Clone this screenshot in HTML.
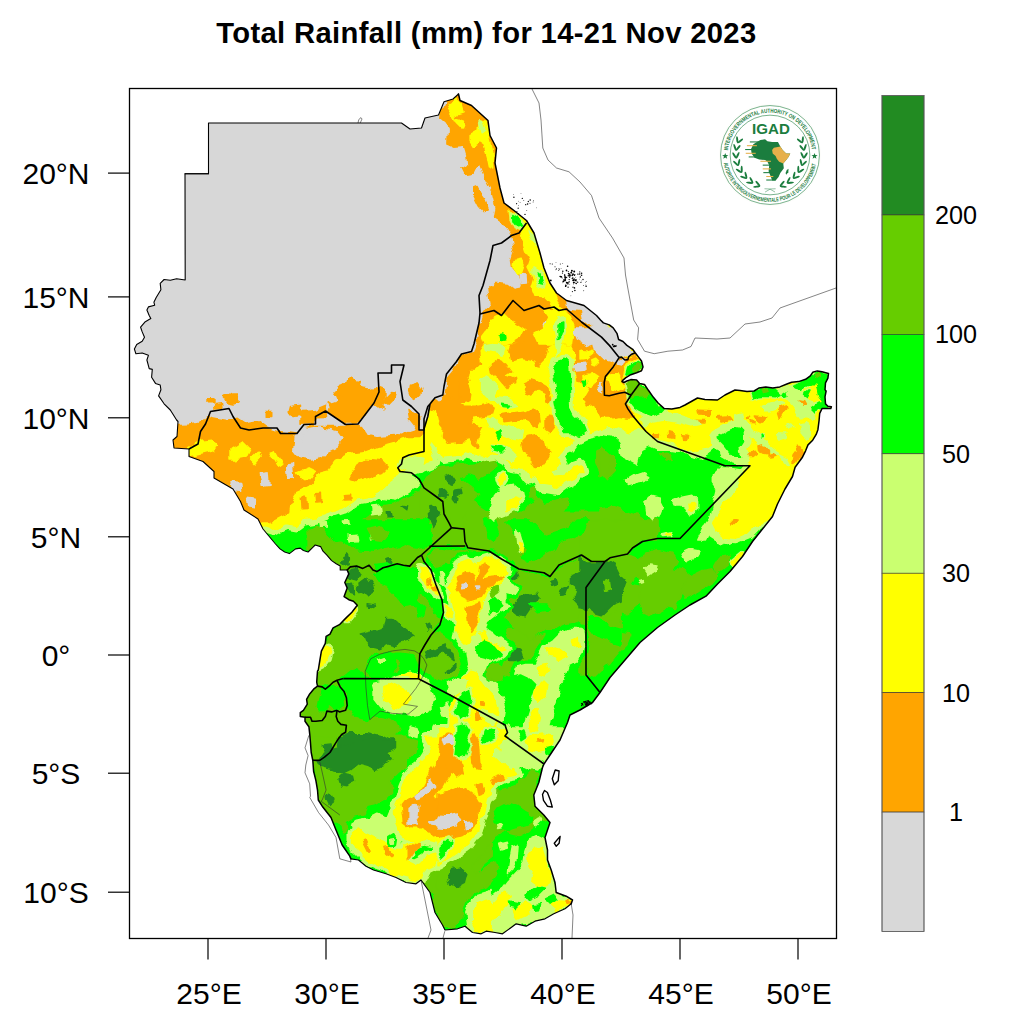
<!DOCTYPE html>
<html lang="en"><head><meta charset="utf-8"><title>Total Rainfall (mm) for 14-21 Nov 2023</title>
<style>html,body{margin:0;padding:0;background:#fff}body{width:1024px;height:1024px;overflow:hidden}svg{display:block}text{font-family:"Liberation Sans", Arial, Helvetica, sans-serif;fill:#000}</style></head><body>
<svg width="1024" height="1024" viewBox="0 0 1024 1024">
<rect width="1024" height="1024" fill="#fff"/>
<defs><clipPath id="fr"><rect x="129.5" y="88.5" width="707" height="850"/></clipPath>
<clipPath id="land"><path d="M208.5,123.0 L401.5,123.0 L410.0,129.0 L421.5,128.0 L425.0,118.0 L438.5,115.0 L444.0,101.8 L453.0,99.0 L458.5,94.0 L460.0,100.5 L471.5,105.5 L488.0,120.5 L490.0,135.5 L496.5,148.0 L495.0,163.0 L500.0,188.0 L504.0,203.0 L514.0,210.5 L526.5,220.5 L534.0,233.0 L540.0,253.0 L544.0,268.0 L550.0,283.0 L556.5,293.0 L566.5,300.5 L584.0,305.5 L596.5,315.5 L600.5,320.0 L603.4,322.9 L609.3,324.9 L613.2,327.8 L617.1,333.7 L618.6,339.5 L623.0,341.5 L626.9,345.4 L632.7,349.3 L635.2,352.7 L638.6,357.1 L641.5,361.0 L643.0,366.9 L641.5,370.8 L636.6,372.7 L630.8,374.7 L625.9,377.6 L623.0,380.1 L622.0,381.5 L623.9,382.5 L626.9,381.0 L630.8,379.6 L636.6,380.1 L639.6,383.5 L644.5,384.5 L648.4,390.3 L653.2,397.1 L658.1,403.0 L664.0,408.4 L671.8,408.9 L680.0,407.4 L685.0,405.0 L697.5,398.0 L705.0,399.5 L717.5,400.0 L725.0,395.0 L735.0,390.0 L740.0,390.4 L747.0,391.6 L754.1,391.0 L758.8,388.1 L765.8,386.9 L772.8,388.1 L779.8,386.9 L786.9,384.0 L791.6,382.2 L798.6,381.6 L805.6,379.3 L810.3,375.8 L812.7,372.3 L817.3,370.9 L822.0,371.7 L828.5,373.4 L827.9,378.1 L825.5,382.8 L825.0,389.8 L826.1,391.0 L825.0,396.9 L825.5,403.9 L827.9,406.2 L831.4,406.8 L830.8,408.6 L822.0,408.6 L819.7,413.3 L819.1,420.3 L817.9,429.7 L816.2,434.4 L812.7,440.2 L808.0,444.9 L805.6,450.8 L802.1,457.8 L798.6,462.5 L795.1,467.2 L792.5,476.5 L785.0,489.0 L777.5,504.0 L772.5,516.5 L762.5,529.0 L752.5,541.5 L742.5,556.5 L730.0,571.5 L717.5,584.0 L706.0,596.2 L690.0,605.0 L675.0,615.0 L657.5,627.5 L640.0,642.5 L625.0,660.0 L610.0,677.5 L600.0,692.5 L592.5,702.5 L580.0,710.0 L570.0,715.0 L567.5,722.5 L560.0,740.0 L550.0,755.0 L544.0,764.0 L542.5,767.5 L538.8,782.5 L533.8,795.0 L535.0,806.2 L543.8,815.0 L550.0,822.5 L545.0,837.5 L547.5,850.0 L547.5,860.0 L551.2,870.0 L555.0,882.5 L556.2,892.5 L566.2,896.2 L572.5,900.0 L571.2,903.8 L565.0,908.8 L553.8,913.8 L545.0,918.8 L535.0,921.2 L526.2,926.2 L516.2,923.8 L511.2,927.5 L502.5,933.8 L495.0,932.5 L486.2,931.2 L481.2,933.8 L472.5,932.5 L465.0,926.2 L457.5,928.8 L445.0,930.0 L442.5,925.0 L435.0,912.5 L430.0,892.5 L421.0,880.0 L416.0,883.8 L406.0,882.5 L396.0,877.5 L386.0,873.8 L373.5,870.0 L366.0,866.2 L358.5,860.0 L351.0,858.8 L349.8,856.2 L342.2,845.0 L336.0,830.0 L331.0,817.5 L322.2,806.2 L318.3,800.0 L317.5,790.0 L315.9,780.6 L313.6,771.2 L312.8,760.3 L311.2,752.5 L310.5,743.1 L309.7,733.8 L308.9,726.7 L305.0,721.2 L305.0,717.3 L300.3,716.6 L300.3,712.7 L303.4,710.3 L307.3,704.1 L306.6,699.4 L309.7,693.9 L313.6,689.2 L317.5,686.1 L316.7,682.2 L317.5,671.2 L318.3,670.0 L319.8,660.6 L321.4,651.2 L325.3,643.4 L326.1,636.4 L330.0,634.1 L333.1,627.8 L339.4,624.7 L345.6,618.4 L351.9,612.2 L357.3,605.2 L353.4,601.2 L348.8,599.7 L344.1,596.6 L347.2,588.0 L344.8,582.5 L348.8,573.9 L347.2,570.0 L340.2,570.0 L340.2,566.1 L336.2,563.8 L331.6,560.6 L326.9,555.2 L323.0,551.2 L320.6,546.6 L315.2,545.0 L312.8,547.3 L308.1,552.0 L303.4,550.5 L300.3,548.1 L295.6,548.9 L289.4,553.6 L284.7,552.0 L280.0,548.9 L275.5,544.0 L263.0,529.0 L258.0,519.0 L244.0,510.0 L240.5,501.5 L233.0,489.0 L214.0,478.0 L214.0,471.5 L203.0,461.5 L189.0,456.5 L189.0,449.0 L174.0,448.0 L173.0,440.0 L177.0,436.5 L178.0,421.5 L176.6,420.0 L170.3,410.0 L164.1,403.8 L158.6,395.9 L160.9,389.7 L160.2,385.0 L155.5,383.4 L151.6,377.2 L152.3,369.4 L149.2,368.6 L146.9,360.0 L148.4,355.3 L142.2,353.0 L135.9,353.8 L134.4,349.0 L136.7,344.4 L142.2,341.2 L144.5,337.3 L142.2,331.9 L140.6,327.2 L145.3,321.7 L150.8,318.6 L149.2,315.5 L146.9,310.0 L148.4,306.9 L154.7,305.3 L153.9,302.2 L156.2,297.5 L160.9,289.7 L160.2,283.4 L164.1,279.5 L170.3,280.3 L176.6,278.8 L185.2,280.0 L185.0,173.8 L208.5,173.8Z"/></clipPath><filter id="wob" x="0" y="0" width="1024" height="1024" filterUnits="userSpaceOnUse"><feTurbulence type="fractalNoise" baseFrequency="0.09" numOctaves="2" seed="7" result="n"/><feDisplacementMap in="SourceGraphic" in2="n" scale="8" xChannelSelector="R" yChannelSelector="G"/></filter>
</defs>
<g clip-path="url(#fr)">
<g clip-path="url(#land)"><g filter="url(#wob)">
<rect x="100" y="60" width="760" height="900" fill="#00ff00"/>
<path d="M308.1,529.4 L315.9,525.5 L327.7,529.4 L339.4,525.5 L347.2,521.6 L355.0,525.5 L366.7,517.7 L374.5,511.8 L382.3,505.9 L394.1,504.0 L405.8,498.1 L417.5,492.3 L431.2,490.3 L431.2,548.9 L409.7,565.5 L398.0,564.5 L382.3,567.5 L374.5,571.4 L370.6,565.5 L366.7,568.4 L358.9,565.5 L351.1,566.5 L347.2,570.4 L339.4,570.4 L323.8,552.8 L308.1,548.9Z" fill="#66cd00" stroke="#66cd00" stroke-width="1.4" stroke-linejoin="round"/>
<path d="M347.2,568.4 L358.9,566.5 L370.6,570.4 L378.4,574.3 L386.2,576.2 L390.2,588.0 L398.0,595.8 L405.8,603.6 L401.9,615.3 L394.1,620.0 L337.4,620.0 L337.4,576.2Z" fill="#66cd00" stroke="#66cd00" stroke-width="1.4" stroke-linejoin="round"/>
<path d="M439.5,466.7 L459.1,464.8 L478.6,462.8 L494.2,460.9 L496.2,466.7 L486.4,474.5 L478.6,478.4 L468.8,474.5 L459.1,478.4 L468.8,486.2 L478.6,494.1 L470.8,501.9 L478.6,505.8 L490.3,513.6 L488.4,530.0 L420.0,530.0 L420.0,490.2 L425.9,478.4 L431.7,470.6Z" fill="#66cd00" stroke="#66cd00" stroke-width="1.4" stroke-linejoin="round"/>
<path d="M595.8,451.1 L603.6,447.2 L607.5,455.0 L615.3,455.0 L615.3,470.6 L607.5,478.4 L599.7,470.6 L595.8,462.8Z" fill="#66cd00" stroke="#66cd00" stroke-width="1.4" stroke-linejoin="round"/>
<path d="M517.7,530.0 L525.5,515.5 L529.4,505.8 L537.2,496.0 L545.0,505.8 L556.7,499.9 L568.4,498.0 L564.5,509.7 L556.7,517.5 L560.6,530.0Z" fill="#66cd00" stroke="#66cd00" stroke-width="1.4" stroke-linejoin="round"/>
<path d="M529.4,488.2 L537.2,486.2 L537.2,498.0 L530.4,498.0Z" fill="#66cd00" stroke="#66cd00" stroke-width="1.4" stroke-linejoin="round"/>
<path d="M600.0,449.4 L607.8,453.3 L611.7,461.1 L607.8,472.8 L600.0,476.7Z" fill="#66cd00" stroke="#66cd00" stroke-width="1.4" stroke-linejoin="round"/>
<path d="M660.5,453.3 L668.4,452.3 L672.3,459.1 L666.4,461.1Z" fill="#66cd00" stroke="#66cd00" stroke-width="1.4" stroke-linejoin="round"/>
<path d="M600.0,508.0 L611.7,506.0 L627.3,511.9 L639.1,515.8 L650.8,523.6 L658.6,527.5 L656.6,540.0 L600.0,540.0Z" fill="#66cd00" stroke="#66cd00" stroke-width="1.4" stroke-linejoin="round"/>
<path d="M505.9,570.8 L513.8,568.8 L525.5,572.7 L537.2,574.7 L548.9,578.6 L560.6,566.9 L580.2,557.1 L621.2,557.1 L621.2,641.1 L613.4,637.2 L607.5,629.4 L595.8,625.5 L586.0,617.7 L576.2,621.6 L564.5,625.5 L556.7,629.4 L545.0,629.4 L537.2,635.2 L529.4,641.1 L521.6,637.2 L517.7,629.4 L511.8,625.5 L505.9,617.7 L509.8,605.9 L505.9,594.2 L507.9,582.5Z" fill="#66cd00" stroke="#66cd00" stroke-width="1.4" stroke-linejoin="round"/>
<path d="M418.0,518.0 L447.3,518.0 L449.3,527.8 L429.8,545.4 L420.0,555.2 L418.0,555.2Z" fill="#66cd00" stroke="#66cd00" stroke-width="1.4" stroke-linejoin="round"/>
<path d="M466.9,512.2 L621.2,512.2 L621.2,556.1 L613.4,556.1 L605.5,561.0 L588.0,560.0 L580.2,555.2 L558.7,564.9 L549.9,576.6 L543.0,572.7 L525.5,569.8 L515.7,567.9 L505.9,561.0 L498.1,556.1 L488.4,550.3 L468.8,548.3 L465.9,543.4 L463.9,527.8Z" fill="#66cd00" stroke="#66cd00" stroke-width="1.4" stroke-linejoin="round"/>
<path d="M420.0,637.2 L427.8,631.3 L439.5,633.3 L451.2,641.1 L459.1,652.8 L461.0,664.5 L455.2,676.2 L443.4,680.2 L431.7,676.2 L420.0,672.3 L416.1,656.7Z" fill="#66cd00" stroke="#66cd00" stroke-width="1.4" stroke-linejoin="round"/>
<path d="M505.9,629.4 L517.7,629.4 L529.4,641.1 L537.2,637.2 L545.0,633.3 L537.2,647.0 L533.3,656.7 L529.4,664.5 L517.7,666.5 L515.7,674.3 L505.9,676.2 L502.0,668.4 L505.9,656.7 L507.9,647.0Z" fill="#66cd00" stroke="#66cd00" stroke-width="1.4" stroke-linejoin="round"/>
<path d="M589.9,633.3 L599.7,629.4 L611.4,635.2 L615.3,645.0 L611.4,656.7 L603.6,668.4 L595.8,676.2 L589.9,672.3 L588.0,656.7 L591.9,645.0Z" fill="#66cd00" stroke="#66cd00" stroke-width="1.4" stroke-linejoin="round"/>
<path d="M580.0,520.0 L658.1,520.0 L658.1,531.7 L644.5,539.5 L634.7,545.4 L630.8,553.2 L611.2,557.1 L605.4,562.0 L587.8,562.0 L580.0,555.2Z" fill="#66cd00" stroke="#66cd00" stroke-width="1.4" stroke-linejoin="round"/>
<path d="M607.3,559.1 L628.8,555.2 L638.6,559.1 L644.5,555.2 L658.1,549.3 L671.8,553.2 L677.7,561.0 L673.8,568.8 L681.6,570.8 L689.4,576.6 L685.5,584.5 L681.6,592.3 L677.7,602.0 L673.8,609.8 L665.9,607.9 L658.1,611.8 L650.3,615.7 L642.5,611.8 L638.6,604.0 L634.7,598.1 L640.5,586.4 L636.6,576.6 L630.8,584.5 L626.9,594.2 L623.0,604.0 L615.2,611.8 L605.4,617.7 L599.5,625.5 L597.6,637.2 L591.7,645.0 L586.8,645.0 L586.8,607.9 L601.5,615.7 L619.1,602.0 L626.9,580.5 L609.3,570.8Z" fill="#66cd00" stroke="#66cd00" stroke-width="1.4" stroke-linejoin="round"/>
<path d="M587.8,645.0 L599.5,637.2 L609.3,629.4 L619.1,633.3 L630.8,635.2 L626.9,645.0 L619.1,652.8 L609.3,664.5 L599.5,668.4 L591.7,676.2 L587.8,672.3Z" fill="#66cd00" stroke="#66cd00" stroke-width="1.4" stroke-linejoin="round"/>
<path d="M720.6,557.1 L730.4,555.2 L726.5,564.9 L716.7,572.7 L714.8,566.9Z" fill="#66cd00" stroke="#66cd00" stroke-width="1.4" stroke-linejoin="round"/>
<path d="M580.0,605.9 L585.9,605.9 L585.9,629.4 L580.0,627.4Z" fill="#66cd00" stroke="#66cd00" stroke-width="1.4" stroke-linejoin="round"/>
<path d="M580.0,656.7 L585.9,654.8 L585.9,674.3 L580.0,676.2Z" fill="#66cd00" stroke="#66cd00" stroke-width="1.4" stroke-linejoin="round"/>
<path d="M315.4,550.0 L426.7,550.0 L424.8,561.7 L415.0,567.6 L415.0,577.3 L418.9,589.1 L426.7,600.8 L438.4,608.6 L442.3,618.4 L434.5,628.1 L426.7,637.9 L422.8,647.7 L415.0,653.5 L399.4,651.6 L387.7,653.5 L391.6,659.4 L399.4,663.3 L395.5,671.1 L387.7,675.0 L372.0,677.0 L364.2,675.0 L358.4,667.2 L348.6,671.1 L340.8,677.0 L336.9,678.9 L348.6,686.7 L356.4,682.8 L368.1,686.7 L368.1,706.2 L374.0,716.0 L383.8,718.0 L395.5,721.9 L399.4,729.7 L395.5,737.5 L387.7,745.3 L383.8,750.0 L309.5,750.0 L301.7,725.8 L299.8,706.2 L315.4,686.7 L317.3,667.2 L323.2,643.8 L340.8,620.3 L356.4,604.7 L344.7,589.1 L346.6,569.5Z" fill="#66cd00" stroke="#66cd00" stroke-width="1.4" stroke-linejoin="round"/>
<path d="M301.7,736.1 L417.0,736.1 L415.0,751.7 L407.2,759.5 L407.2,767.3 L399.4,771.2 L391.6,779.1 L391.6,790.8 L385.7,798.6 L375.9,804.5 L368.1,806.4 L364.2,814.2 L354.5,818.1 L348.6,825.9 L344.7,833.8 L338.8,825.9 L329.1,816.2 L320.3,802.5 L314.4,773.2Z" fill="#66cd00" stroke="#66cd00" stroke-width="1.4" stroke-linejoin="round"/>
<path d="M411.1,867.0 L422.8,861.1 L434.5,865.0 L446.2,857.2 L458.0,851.3 L469.7,845.5 L477.5,837.7 L491.2,829.8 L491.2,857.2 L481.4,865.0 L477.5,876.7 L473.6,888.4 L465.8,896.2 L461.9,908.0 L458.0,919.7 L454.1,927.5 L444.3,927.5 L438.4,919.7 L434.5,908.0 L432.6,894.3 L426.7,888.4 L420.9,880.6Z" fill="#66cd00" stroke="#66cd00" stroke-width="1.4" stroke-linejoin="round"/>
<path d="M488.8,796.4 L496.6,790.5 L506.4,788.6 L518.1,784.7 L525.9,776.9 L531.8,771.0 L537.7,774.9 L537.7,788.6 L533.8,798.4 L535.7,808.1 L541.6,814.0 L545.5,819.8 L537.7,821.8 L531.8,827.7 L525.9,831.6 L518.1,835.5 L510.3,833.5 L502.5,831.6 L496.6,835.5 L490.8,843.3 L484.9,851.1 L479.1,858.9 L473.2,866.7 L477.1,874.5 L484.9,866.7 L492.7,862.8 L498.6,866.7 L496.6,874.5 L490.8,882.3 L483.0,890.2 L475.2,898.0 L471.2,905.8 L467.3,913.6 L459.5,923.4 L451.7,927.3 L438.0,925.3 L438.0,866.7 L451.7,858.9 L461.5,853.0 L471.2,845.2 L479.1,833.5 L483.0,819.8 L485.9,808.1Z" fill="#66cd00" stroke="#66cd00" stroke-width="1.4" stroke-linejoin="round"/>
<path d="M433.5,545.2 L451.1,527.7 L464.8,530.0 L466.7,545.2Z" fill="#66cd00" stroke="#66cd00" stroke-width="1.4" stroke-linejoin="round"/>
<path d="M427.7,555.0 L439.4,549.1 L455.0,551.1 L466.7,549.1 L470.6,557.0 L458.9,564.8 L447.2,562.8 L435.5,566.7Z" fill="#66cd00" stroke="#66cd00" stroke-width="1.4" stroke-linejoin="round"/>
<path d="M609.3,570.8 L626.9,580.5 L638.6,576.6 L644.5,568.8 L638.6,559.1 L628.8,555.2 L619.1,559.1Z" fill="#66cd00" stroke="#66cd00" stroke-width="1.4" stroke-linejoin="round"/>
<path d="M619.1,602.0 L630.8,584.5 L640.5,586.4 L638.6,604.0 L626.9,613.8 L615.2,611.8Z" fill="#66cd00" stroke="#66cd00" stroke-width="1.4" stroke-linejoin="round"/>
<path d="M689.4,576.6 L701.1,570.8 L712.8,568.8 L716.7,574.7 L708.9,584.5 L697.2,592.3 L685.5,598.1 L681.6,592.3 L685.5,584.5Z" fill="#66cd00" stroke="#66cd00" stroke-width="1.4" stroke-linejoin="round"/>
<path d="M350.1,568.4 L357.0,567.5 L360.9,574.3 L357.0,580.2 L351.1,579.2Z" fill="#228b22" stroke="#228b22" stroke-width="1.4" stroke-linejoin="round"/>
<path d="M358.9,584.1 L366.7,578.2 L372.6,586.0 L374.5,591.9 L366.7,595.8 L360.9,591.9Z" fill="#228b22" stroke="#228b22" stroke-width="1.4" stroke-linejoin="round"/>
<path d="M341.3,554.8 L347.2,554.8 L348.2,562.6 L343.3,564.5Z" fill="#228b22" stroke="#228b22" stroke-width="1.4" stroke-linejoin="round"/>
<path d="M386.2,511.8 L392.1,511.8 L393.1,516.7 L387.2,516.7Z" fill="#228b22" stroke="#228b22" stroke-width="1.4" stroke-linejoin="round"/>
<path d="M384.3,558.7 L392.1,557.7 L394.1,562.6 L386.2,563.6Z" fill="#228b22" stroke="#228b22" stroke-width="1.4" stroke-linejoin="round"/>
<path d="M401.9,505.9 L407.7,506.9 L406.8,509.8Z" fill="#228b22" stroke="#228b22" stroke-width="1.4" stroke-linejoin="round"/>
<path d="M368.7,603.6 L374.5,604.6 L373.6,607.5Z" fill="#228b22" stroke="#228b22" stroke-width="1.4" stroke-linejoin="round"/>
<path d="M445.4,476.5 L451.2,474.5 L455.2,480.4 L451.2,484.3 L446.4,482.3Z" fill="#228b22" stroke="#228b22" stroke-width="1.4" stroke-linejoin="round"/>
<path d="M439.5,490.2 L446.4,489.2 L449.3,494.1 L445.4,498.0 L439.5,496.0Z" fill="#228b22" stroke="#228b22" stroke-width="1.4" stroke-linejoin="round"/>
<path d="M428.8,506.8 L435.6,505.8 L439.5,511.6 L436.6,521.4 L433.7,527.3 L429.8,517.5Z" fill="#228b22" stroke="#228b22" stroke-width="1.4" stroke-linejoin="round"/>
<path d="M455.2,490.2 L461.0,489.2 L462.0,493.1 L457.1,496.0 L456.1,501.9 L453.2,498.0Z" fill="#228b22" stroke="#228b22" stroke-width="1.4" stroke-linejoin="round"/>
<path d="M512.8,604.0 L517.7,598.1 L529.4,595.2 L537.2,594.2 L541.1,598.1 L535.2,604.0 L529.4,611.8 L525.5,617.7 L517.7,615.7 L512.8,611.8Z" fill="#228b22" stroke="#228b22" stroke-width="1.4" stroke-linejoin="round"/>
<path d="M570.4,576.6 L582.1,570.8 L589.9,563.0 L605.5,562.0 L588.0,587.4 L587.0,609.8 L582.1,605.9 L574.3,598.1 L576.2,588.4 L570.4,584.5Z" fill="#228b22" stroke="#228b22" stroke-width="1.4" stroke-linejoin="round"/>
<path d="M587.0,588.4 L607.5,562.0 L615.3,566.9 L621.2,578.6 L621.2,602.0 L611.4,605.9 L603.6,613.8 L595.8,611.8 L589.9,605.9 L587.0,607.9Z" fill="#228b22" stroke="#228b22" stroke-width="1.4" stroke-linejoin="round"/>
<path d="M562.6,588.4 L568.4,586.4 L565.5,594.2 L560.6,595.2Z" fill="#228b22" stroke="#228b22" stroke-width="1.4" stroke-linejoin="round"/>
<path d="M507.9,654.8 L513.8,648.9 L519.6,647.9 L522.5,656.7 L517.7,661.6 L508.9,661.6Z" fill="#228b22" stroke="#228b22" stroke-width="1.4" stroke-linejoin="round"/>
<path d="M509.8,572.7 L515.7,570.8 L517.7,576.6 L511.8,580.5Z" fill="#228b22" stroke="#228b22" stroke-width="1.4" stroke-linejoin="round"/>
<path d="M548.9,580.5 L554.8,578.6 L556.7,583.5 L550.9,585.4Z" fill="#228b22" stroke="#228b22" stroke-width="1.4" stroke-linejoin="round"/>
<path d="M437.6,647.0 L445.4,644.0 L451.2,652.8 L454.2,660.6 L449.3,656.7 L443.4,650.9 L438.6,649.9Z" fill="#228b22" stroke="#228b22" stroke-width="1.4" stroke-linejoin="round"/>
<path d="M445.4,670.4 L455.2,664.5 L456.1,667.5 L447.3,673.3Z" fill="#228b22" stroke="#228b22" stroke-width="1.4" stroke-linejoin="round"/>
<path d="M580.0,557.1 L587.8,562.0 L605.4,562.0 L585.9,588.4 L585.9,605.9 L580.0,605.9Z" fill="#228b22" stroke="#228b22" stroke-width="1.4" stroke-linejoin="round"/>
<path d="M586.8,588.4 L605.4,563.0 L609.3,570.8 L619.1,576.6 L626.9,580.5 L623.0,592.3 L619.1,602.0 L605.4,607.9 L601.5,615.7 L595.6,613.8 L591.7,607.9 L586.8,605.9Z" fill="#228b22" stroke="#228b22" stroke-width="1.4" stroke-linejoin="round"/>
<path d="M359.3,635.0 L372.0,632.0 L383.8,628.1 L385.7,617.4 L391.6,617.4 L399.4,624.2 L407.2,630.1 L415.0,635.9 L407.2,639.8 L399.4,641.8 L395.5,645.7 L387.7,643.8 L379.8,647.7 L372.0,645.7 L366.2,639.8Z" fill="#228b22" stroke="#228b22" stroke-width="1.4" stroke-linejoin="round"/>
<path d="M348.6,571.5 L356.4,568.6 L360.3,575.4 L356.4,581.2 L350.5,579.3Z" fill="#228b22" stroke="#228b22" stroke-width="1.4" stroke-linejoin="round"/>
<path d="M356.4,589.1 L364.2,581.2 L370.1,583.2 L368.1,589.1 L374.0,593.0 L368.1,596.9 L360.3,593.0Z" fill="#228b22" stroke="#228b22" stroke-width="1.4" stroke-linejoin="round"/>
<path d="M341.8,555.9 L346.6,553.9 L348.6,559.8 L343.7,563.7Z" fill="#228b22" stroke="#228b22" stroke-width="1.4" stroke-linejoin="round"/>
<path d="M383.8,558.8 L391.6,557.8 L393.5,562.7 L387.7,564.6Z" fill="#228b22" stroke="#228b22" stroke-width="1.4" stroke-linejoin="round"/>
<path d="M368.1,602.7 L374.0,603.7 L373.0,606.6 L368.5,606.2Z" fill="#228b22" stroke="#228b22" stroke-width="1.4" stroke-linejoin="round"/>
<path d="M346.6,586.1 L352.5,585.2 L354.5,594.9 L348.6,593.0Z" fill="#228b22" stroke="#228b22" stroke-width="1.4" stroke-linejoin="round"/>
<path d="M424.8,655.5 L438.4,647.7 L446.2,644.7 L452.1,651.6 L454.1,659.4 L450.2,655.5 L444.3,651.6 L434.5,655.5 L426.7,659.4Z" fill="#228b22" stroke="#228b22" stroke-width="1.4" stroke-linejoin="round"/>
<path d="M446.2,669.1 L456.0,664.3 L455.0,668.2 L448.2,673.0Z" fill="#228b22" stroke="#228b22" stroke-width="1.4" stroke-linejoin="round"/>
<path d="M426.7,626.2 L430.6,624.2 L431.6,630.1 L427.7,631.1Z" fill="#228b22" stroke="#228b22" stroke-width="1.4" stroke-linejoin="round"/>
<path d="M338.8,737.5 L348.6,733.6 L368.1,733.6 L383.8,737.5 L395.5,743.4 L391.6,750.0 L336.9,750.0Z" fill="#228b22" stroke="#228b22" stroke-width="1.4" stroke-linejoin="round"/>
<path d="M319.3,761.5 L325.2,751.7 L336.9,747.8 L348.6,743.9 L356.4,740.0 L395.5,740.0 L395.5,747.8 L387.7,751.7 L391.6,759.5 L383.8,765.4 L375.9,769.3 L368.1,765.4 L360.3,763.4 L352.5,769.3 L344.7,773.2 L336.9,769.3 L329.1,767.3 L321.2,765.4Z" fill="#228b22" stroke="#228b22" stroke-width="1.4" stroke-linejoin="round"/>
<path d="M337.9,779.1 L342.7,774.2 L352.5,776.1 L353.5,781.0 L346.6,785.9 L339.8,784.9Z" fill="#228b22" stroke="#228b22" stroke-width="1.4" stroke-linejoin="round"/>
<path d="M325.2,798.6 L332.0,795.7 L333.9,799.6 L328.1,804.5Z" fill="#228b22" stroke="#228b22" stroke-width="1.4" stroke-linejoin="round"/>
<path d="M322.2,744.9 L331.0,743.9 L332.0,749.8 L324.2,750.7Z" fill="#228b22" stroke="#228b22" stroke-width="1.4" stroke-linejoin="round"/>
<path d="M449.2,876.7 L454.1,868.9 L459.9,867.0 L466.8,874.8 L461.9,882.6 L455.0,886.5 L450.2,882.6Z" fill="#228b22" stroke="#228b22" stroke-width="1.4" stroke-linejoin="round"/>
<path d="M448.8,878.4 L453.7,868.7 L459.5,866.7 L466.4,874.5 L464.4,882.3 L457.6,886.2 L450.7,885.3Z" fill="#228b22" stroke="#228b22" stroke-width="1.4" stroke-linejoin="round"/>
<path d="M445.4,584.5 L453.2,568.8 L457.1,559.1 L466.9,555.2 L472.7,559.1 L484.5,555.2 L492.3,553.2 L502.0,559.1 L509.8,564.9 L511.8,570.8 L505.9,578.6 L511.8,584.5 L517.7,588.4 L513.8,594.2 L505.9,592.3 L505.9,602.0 L509.8,605.9 L502.0,609.8 L494.2,615.7 L486.4,621.6 L484.5,629.4 L494.2,633.3 L504.0,641.1 L511.8,647.0 L505.9,654.8 L498.1,660.6 L486.4,664.5 L482.5,676.2 L494.2,684.1 L502.0,695.8 L505.9,707.5 L502.0,732.9 L445.4,732.9 L449.3,707.5 L455.2,695.8 L459.1,684.1 L464.9,674.3 L468.8,664.5 L466.9,652.8 L459.1,645.0 L453.2,637.2 L455.2,625.5 L451.2,613.8 L449.3,598.1Z" fill="#00ff00" stroke="#00ff00" stroke-width="8" stroke-linejoin="round"/>
<path d="M535.2,664.5 L543.0,647.0 L552.8,641.1 L560.6,633.3 L568.4,629.4 L582.1,629.4 L584.1,641.1 L582.1,652.8 L576.2,660.6 L568.4,664.5 L564.5,676.2 L560.6,688.0 L556.7,699.7 L552.8,711.4 L548.9,732.9 L521.6,732.9 L529.4,707.5 L533.3,695.8 L537.2,684.1 L529.4,676.2 L521.6,672.3 L515.7,674.3 L517.7,666.5 L525.5,664.5Z" fill="#00ff00" stroke="#00ff00" stroke-width="10" stroke-linejoin="round"/>
<path d="M372.0,682.8 L383.8,679.9 L399.4,675.0 L411.1,671.1 L420.9,675.0 L426.7,678.9 L430.6,686.7 L434.5,698.4 L432.6,706.2 L424.8,712.1 L415.0,716.0 L403.3,714.1 L391.6,712.1 L379.8,708.2 L374.0,700.4 L374.0,690.6Z" fill="#00ff00" stroke="#00ff00" stroke-width="10" stroke-linejoin="round"/>
<path d="M410.1,725.8 L417.0,727.7 L416.0,737.5 L410.1,735.5Z" fill="#00ff00" stroke="#00ff00" stroke-width="6" stroke-linejoin="round"/>
<path d="M350.5,824.0 L356.4,820.1 L368.1,818.1 L375.9,814.2 L387.7,818.1 L391.6,808.4 L399.4,798.6 L395.5,822.0 L399.4,831.8 L405.2,837.7 L399.4,845.5 L387.7,845.5 L379.8,841.6 L372.0,837.7 L364.2,833.8 L358.4,827.9 L352.5,831.8Z" fill="#00ff00" stroke="#00ff00" stroke-width="8" stroke-linejoin="round"/>
<path d="M469.7,900.2 L477.5,894.3 L491.2,890.4 L491.2,933.4 L473.6,932.4 L467.7,925.5 L465.8,911.9Z" fill="#00ff00" stroke="#00ff00" stroke-width="6" stroke-linejoin="round"/>
<path d="M529.8,839.4 L537.7,835.5 L545.5,839.4 L546.4,851.1 L548.4,862.8 L553.3,874.5 L556.2,884.3 L558.2,892.1 L576.7,900.9 L557.2,913.6 L539.6,920.4 L525.9,922.4 L512.3,924.3 L511.3,933.1 L471.2,933.1 L475.2,917.5 L479.1,905.8 L486.9,898.0 L494.7,894.1 L504.5,886.2 L510.3,878.4 L518.1,870.6 L524.0,862.8 L525.9,851.1Z" fill="#00ff00" stroke="#00ff00" stroke-width="6" stroke-linejoin="round"/>
<path d="M331.6,529.4 L339.4,525.5 L347.2,521.6 L355.0,526.4 L366.7,529.4 L374.5,537.2 L366.7,545.0 L355.0,547.0 L347.2,541.1 L339.4,545.0 L333.5,539.1Z" fill="#00ff00" stroke="#00ff00" stroke-width="1.4" stroke-linejoin="round"/>
<path d="M386.2,537.2 L396.0,529.4 L405.8,525.5 L417.5,529.4 L431.2,525.5 L431.2,545.0 L417.5,547.0 L405.8,545.0 L398.0,548.9 L390.2,545.0Z" fill="#00ff00" stroke="#00ff00" stroke-width="1.4" stroke-linejoin="round"/>
<path d="M374.5,564.5 L386.2,562.6 L398.0,564.5 L405.8,568.4 L398.0,574.3 L386.2,572.3 L378.4,572.3Z" fill="#00ff00" stroke="#00ff00" stroke-width="1.4" stroke-linejoin="round"/>
<path d="M484.5,520.0 L494.2,520.0 L498.1,531.7 L494.2,543.4 L488.4,539.5 L486.4,529.8Z" fill="#00ff00" stroke="#00ff00" stroke-width="1.4" stroke-linejoin="round"/>
<path d="M505.9,520.0 L529.4,520.0 L537.2,527.8 L545.0,535.6 L556.7,531.7 L568.4,527.8 L576.2,520.0 L588.0,520.0 L584.1,529.8 L572.3,537.6 L560.6,541.5 L552.8,549.3 L545.0,553.2 L537.2,559.1 L529.4,563.0 L521.6,559.1 L525.5,549.3 L521.6,539.5 L513.8,531.7Z" fill="#00ff00" stroke="#00ff00" stroke-width="1.4" stroke-linejoin="round"/>
<path d="M529.4,604.0 L545.0,604.0 L548.9,609.8 L537.2,611.8Z" fill="#00ff00" stroke="#00ff00" stroke-width="1.4" stroke-linejoin="round"/>
<path d="M588.0,617.7 L599.7,617.7 L607.5,625.5 L621.2,629.4 L621.2,645.0 L607.5,641.1 L595.8,637.2 L589.9,629.4Z" fill="#00ff00" stroke="#00ff00" stroke-width="1.4" stroke-linejoin="round"/>
<path d="M418.9,565.6 L430.6,561.7 L434.5,573.4 L438.4,589.1 L444.3,600.8 L442.3,616.4 L436.5,614.5 L426.7,600.8 L418.9,589.1 L415.0,577.3Z" fill="#00ff00" stroke="#00ff00" stroke-width="1.4" stroke-linejoin="round"/>
<path d="M399.4,594.9 L407.2,589.1 L415.0,593.0 L418.9,600.8 L426.7,608.6 L424.8,616.4 L417.0,614.5 L415.0,606.6 L407.2,604.7Z" fill="#00ff00" stroke="#00ff00" stroke-width="1.4" stroke-linejoin="round"/>
<path d="M368.1,659.4 L375.9,653.5 L387.7,651.6 L395.5,655.5 L395.5,667.2 L387.7,675.0 L372.0,677.0 L366.2,671.1Z" fill="#00ff00" stroke="#00ff00" stroke-width="1.4" stroke-linejoin="round"/>
<path d="M321.2,688.7 L333.0,684.8 L342.7,690.6 L344.7,704.3 L336.9,710.2 L329.1,706.2 L323.2,712.1 L317.3,706.2 L319.3,696.5Z" fill="#00ff00" stroke="#00ff00" stroke-width="1.4" stroke-linejoin="round"/>
<path d="M338.8,680.9 L368.1,679.9 L370.1,690.6 L368.1,706.2 L374.0,714.1 L368.1,721.9 L356.4,718.0 L348.6,706.2 L346.6,694.5Z" fill="#00ff00" stroke="#00ff00" stroke-width="1.4" stroke-linejoin="round"/>
<path d="M498.6,808.1 L506.4,804.2 L518.1,806.2 L525.9,812.0 L533.8,815.9 L531.8,821.8 L522.0,825.7 L514.2,827.7 L506.4,831.6 L498.6,827.7 L492.7,821.8 L494.7,814.0Z" fill="#00ff00" stroke="#00ff00" stroke-width="1.4" stroke-linejoin="round"/>
<path d="M373.8,573.1 L389.4,570.0 L405.0,568.4 L417.5,566.9 L420.6,582.5 L417.5,604.4 L405.0,607.5 L395.6,595.0 L386.2,585.6 L376.9,580.9Z" fill="#00ff00" stroke="#00ff00" stroke-width="1.4" stroke-linejoin="round"/>
<path d="M319.1,520.0 L430.0,520.0 L426.9,529.4 L417.5,538.8 L405.0,541.9 L389.4,546.6 L373.8,551.2 L358.1,549.7 L350.3,543.4 L334.7,540.3 L326.9,532.5Z" fill="#00ff00" stroke="#00ff00" stroke-width="1.4" stroke-linejoin="round"/>
<path d="M150.0,420.0 L424.0,428.0 L433.1,462.0 L425.3,464.9 L413.6,468.8 L405.8,469.8 L399.9,470.8 L394.1,478.6 L386.2,484.5 L378.4,492.3 L366.7,498.1 L355.0,500.1 L343.3,507.9 L331.6,511.8 L315.9,517.7 L304.2,519.6 L296.4,525.5 L284.7,523.5 L274.9,529.4 L263.2,525.5 L249.5,529.4 L210.5,478.6Z" fill="#caff70" stroke="#caff70" stroke-width="12" stroke-linejoin="round"/>
<path d="M420.0,455.0 L423.9,447.2 L431.7,441.3 L439.5,451.1 L443.4,457.0 L459.1,455.0 L464.9,451.1 L478.6,455.0 L486.4,457.0 L498.1,455.0 L505.9,458.9 L511.8,466.7 L521.6,468.7 L529.4,478.4 L537.2,474.5 L541.1,482.3 L545.0,486.2 L556.7,488.2 L564.5,482.3 L574.3,478.4 L582.1,470.6 L580.2,464.8 L574.3,466.7 L564.5,474.5 L554.8,476.5 L552.8,470.6 L560.6,464.8 L556.7,457.0 L560.6,451.1 L568.4,447.2 L574.3,439.4 L586.0,433.5 L595.8,431.6 L607.5,425.7 L620.0,423.8 L620.0,318.3 L468.8,318.3 L420.0,388.6Z" fill="#caff70" stroke="#caff70" stroke-width="12" stroke-linejoin="round"/>
<path d="M499.1,478.4 L504.0,474.5 L505.0,478.4 L501.1,484.3Z" fill="#caff70" stroke="#caff70" stroke-width="6" stroke-linejoin="round"/>
<path d="M600.0,427.9 L609.8,425.9 L619.5,428.9 L629.3,431.8 L639.1,425.9 L646.9,431.8 L656.6,439.6 L664.5,441.6 L678.1,445.5 L687.9,449.4 L697.7,451.3 L705.5,449.4 L713.3,443.5 L721.1,441.6 L728.9,445.5 L725.0,453.3 L732.8,457.2 L740.6,453.3 L744.5,459.1 L750.4,465.0 L744.5,472.8 L740.6,480.6 L736.7,488.4 L732.8,496.2 L725.0,502.1 L721.1,509.9 L717.2,515.8 L713.3,523.6 L717.2,531.4 L725.0,537.3 L736.7,538.2 L748.4,533.4 L756.2,525.5 L775.8,515.8 L834.4,496.2 L834.4,340.0 L600.0,340.0Z" fill="#caff70" stroke="#caff70" stroke-width="10" stroke-linejoin="round"/>
<path d="M420.0,566.9 L425.9,568.8 L431.7,578.6 L437.6,588.4 L439.5,596.2 L431.7,590.3 L425.9,582.5 L420.0,576.6Z" fill="#caff70" stroke="#caff70" stroke-width="8" stroke-linejoin="round"/>
<path d="M445.4,605.9 L451.2,609.8 L452.2,617.7 L447.3,615.7Z" fill="#caff70" stroke="#caff70" stroke-width="6" stroke-linejoin="round"/>
<path d="M730.4,563.0 L742.1,553.2 L744.1,556.1 L734.3,566.9Z" fill="#caff70" stroke="#caff70" stroke-width="4" stroke-linejoin="round"/>
<path d="M321.2,653.5 L327.1,645.7 L331.0,649.6 L329.1,657.4 L323.2,665.2 L319.3,667.2Z" fill="#caff70" stroke="#caff70" stroke-width="6" stroke-linejoin="round"/>
<path d="M342.7,620.3 L354.5,608.6 L357.4,608.6 L348.6,620.3Z" fill="#caff70" stroke="#caff70" stroke-width="4" stroke-linejoin="round"/>
<path d="M426.7,740.0 L430.6,747.8 L426.7,755.6 L422.8,761.5 L415.0,767.3 L407.2,777.1 L403.3,786.9 L399.4,798.6 L395.5,808.4 L395.5,822.0 L399.4,831.8 L405.2,837.7 L415.0,841.6 L426.7,839.6 L434.5,841.6 L446.2,843.5 L456.0,841.6 L461.9,835.7 L469.7,831.8 L477.5,825.9 L483.4,814.2 L485.3,798.6 L491.2,794.7 L491.2,736.1 L426.7,736.1Z" fill="#caff70" stroke="#caff70" stroke-width="10" stroke-linejoin="round"/>
<path d="M352.5,831.8 L358.4,827.9 L364.2,833.8 L372.0,837.7 L379.8,841.6 L387.7,845.5 L395.5,849.4 L403.3,849.4 L407.2,845.5 L415.0,841.6 L411.1,853.3 L407.2,861.1 L415.0,865.0 L422.8,861.1 L426.7,855.2 L434.5,853.3 L438.4,857.2 L434.5,865.0 L426.7,868.9 L422.8,876.7 L415.0,880.6 L407.2,876.7 L399.4,874.8 L391.6,872.8 L383.8,867.0 L375.9,865.0 L368.1,861.1 L362.3,855.2 L356.4,849.4 L352.5,841.6Z" fill="#caff70" stroke="#caff70" stroke-width="10" stroke-linejoin="round"/>
<path d="M438.0,728.0 L506.4,728.0 L504.5,737.8 L498.6,745.6 L500.5,753.4 L506.4,761.2 L514.2,769.1 L518.1,774.9 L506.4,776.9 L498.6,780.8 L490.8,788.6 L486.9,796.4 L484.9,808.1 L482.0,815.9 L479.1,827.7 L475.2,835.5 L469.3,843.3 L459.5,851.1 L451.7,857.0 L438.0,864.8Z" fill="#caff70" stroke="#caff70" stroke-width="10" stroke-linejoin="round"/>
<path d="M386.2,484.5 L394.1,478.6 L399.9,470.8 L405.8,472.7 L417.5,478.6 L419.5,482.5 L415.5,487.4 L405.8,494.2 L394.1,500.1 L382.3,498.1 L378.4,494.2Z" fill="#caff70" stroke="#caff70" stroke-width="1.4" stroke-linejoin="round"/>
<path d="M370.6,506.9 L381.4,505.9 L382.3,512.8 L371.6,513.8Z" fill="#caff70" stroke="#caff70" stroke-width="1.4" stroke-linejoin="round"/>
<path d="M341.3,520.0 L348.8,519.6 L349.1,525.1 L342.1,525.5Z" fill="#caff70" stroke="#caff70" stroke-width="1.4" stroke-linejoin="round"/>
<path d="M319.8,522.0 L327.3,521.6 L327.7,526.1 L320.6,526.4Z" fill="#caff70" stroke="#caff70" stroke-width="1.4" stroke-linejoin="round"/>
<path d="M349.1,535.6 L357.9,535.2 L358.9,540.7 L350.1,541.1Z" fill="#caff70" stroke="#caff70" stroke-width="1.4" stroke-linejoin="round"/>
<path d="M371.0,531.7 L375.1,531.3 L375.5,538.8 L371.4,539.1Z" fill="#caff70" stroke="#caff70" stroke-width="1.4" stroke-linejoin="round"/>
<path d="M494.2,496.0 L502.0,486.2 L511.8,484.3 L521.6,492.1 L523.5,501.9 L515.7,509.7 L507.9,513.6 L498.1,517.5 L492.3,521.4 L488.4,517.5 L492.3,505.8Z" fill="#caff70" stroke="#caff70" stroke-width="1.4" stroke-linejoin="round"/>
<path d="M600.0,427.9 L619.5,428.9 L629.3,431.8 L639.1,425.9 L646.9,431.8 L656.6,439.6 L664.5,441.6 L678.1,445.5 L687.9,449.4 L697.7,451.3 L705.5,449.4 L709.4,453.3 L701.6,457.2 L693.8,455.2 L682.0,451.3 L670.3,449.4 L658.6,449.4 L650.8,445.5 L643.0,449.4 L639.1,457.2 L631.2,461.1 L629.3,453.3 L623.4,449.4 L619.5,441.6 L611.7,435.7 L600.0,433.8Z" fill="#caff70" stroke="#caff70" stroke-width="1.4" stroke-linejoin="round"/>
<path d="M713.3,474.8 L721.1,467.0 L728.9,467.0 L740.6,468.9 L744.5,472.8 L740.6,480.6 L736.7,488.4 L732.8,496.2 L725.0,502.1 L721.1,509.9 L717.2,515.8 L713.3,523.6 L709.4,531.4 L705.5,540.0 L697.7,540.0 L703.5,527.5 L711.3,515.8 L713.3,506.0 L715.2,496.2 L717.2,488.4 L713.3,482.6Z" fill="#caff70" stroke="#caff70" stroke-width="1.4" stroke-linejoin="round"/>
<path d="M625.4,480.6 L635.2,474.8 L641.0,472.8 L648.8,476.7 L644.9,480.6 L635.2,482.6 L627.3,484.5Z" fill="#caff70" stroke="#caff70" stroke-width="1.4" stroke-linejoin="round"/>
<path d="M644.9,502.1 L650.8,496.2 L658.6,498.2 L662.5,506.0 L658.6,515.8 L652.7,519.7 L646.9,513.8Z" fill="#caff70" stroke="#caff70" stroke-width="1.4" stroke-linejoin="round"/>
<path d="M672.3,500.2 L682.0,496.2 L691.8,494.3 L697.7,500.2 L697.7,509.9 L691.8,515.8 L685.9,511.9 L682.0,504.1 L674.2,504.1Z" fill="#caff70" stroke="#caff70" stroke-width="1.4" stroke-linejoin="round"/>
<path d="M619.5,449.4 L629.3,449.4 L639.1,457.2 L637.1,465.0 L629.3,461.1 L621.5,457.2Z" fill="#caff70" stroke="#caff70" stroke-width="1.4" stroke-linejoin="round"/>
<path d="M715.2,472.8 L725.0,468.9 L728.9,476.7 L725.0,488.4 L717.2,488.4Z" fill="#caff70" stroke="#caff70" stroke-width="1.4" stroke-linejoin="round"/>
<path d="M515.7,529.8 L519.6,531.7 L523.5,545.4 L519.6,553.2 L516.7,543.4Z" fill="#caff70" stroke="#caff70" stroke-width="1.4" stroke-linejoin="round"/>
<path d="M445.4,584.5 L453.2,568.8 L457.1,559.1 L466.9,555.2 L472.7,559.1 L484.5,555.2 L492.3,553.2 L502.0,559.1 L509.8,564.9 L511.8,570.8 L505.9,578.6 L511.8,584.5 L517.7,588.4 L513.8,594.2 L505.9,592.3 L505.9,602.0 L509.8,605.9 L502.0,609.8 L494.2,615.7 L486.4,621.6 L484.5,629.4 L494.2,633.3 L504.0,641.1 L511.8,647.0 L505.9,654.8 L498.1,660.6 L486.4,664.5 L482.5,676.2 L494.2,684.1 L502.0,695.8 L505.9,707.5 L502.0,732.9 L445.4,732.9 L449.3,707.5 L455.2,695.8 L459.1,684.1 L464.9,674.3 L468.8,664.5 L466.9,652.8 L459.1,645.0 L453.2,637.2 L455.2,625.5 L451.2,613.8 L449.3,598.1Z" fill="#caff70" stroke="#caff70" stroke-width="1.4" stroke-linejoin="round"/>
<path d="M439.5,572.7 L443.4,574.7 L444.4,584.5 L440.5,582.5Z" fill="#caff70" stroke="#caff70" stroke-width="1.4" stroke-linejoin="round"/>
<path d="M535.2,664.5 L543.0,647.0 L552.8,641.1 L560.6,633.3 L568.4,629.4 L582.1,629.4 L584.1,641.1 L582.1,652.8 L576.2,660.6 L568.4,664.5 L564.5,676.2 L560.6,688.0 L556.7,699.7 L552.8,711.4 L548.9,732.9 L521.6,732.9 L529.4,707.5 L533.3,695.8 L537.2,684.1 L529.4,676.2 L521.6,672.3 L515.7,674.3 L517.7,666.5 L525.5,664.5Z" fill="#caff70" stroke="#caff70" stroke-width="1.4" stroke-linejoin="round"/>
<path d="M420.0,695.8 L429.8,697.7 L433.7,705.5 L427.8,711.4 L420.0,711.4Z" fill="#caff70" stroke="#caff70" stroke-width="1.4" stroke-linejoin="round"/>
<path d="M708.9,525.9 L716.7,520.0 L763.6,520.0 L755.8,531.7 L744.1,539.5 L732.3,541.5 L720.6,545.4 L714.8,539.5 L708.9,535.6Z" fill="#caff70" stroke="#caff70" stroke-width="1.4" stroke-linejoin="round"/>
<path d="M681.6,553.2 L689.4,549.3 L701.1,551.2 L697.2,557.1 L689.4,559.1 L685.5,561.0Z" fill="#caff70" stroke="#caff70" stroke-width="1.4" stroke-linejoin="round"/>
<path d="M644.5,568.8 L648.4,564.9 L658.1,565.9 L654.2,570.8 L648.4,574.7Z" fill="#caff70" stroke="#caff70" stroke-width="1.4" stroke-linejoin="round"/>
<path d="M662.0,533.7 L669.8,531.7 L671.8,536.6 L664.0,537.6Z" fill="#caff70" stroke="#caff70" stroke-width="1.4" stroke-linejoin="round"/>
<path d="M638.6,582.5 L644.5,581.5 L642.5,585.4Z" fill="#caff70" stroke="#caff70" stroke-width="1.4" stroke-linejoin="round"/>
<path d="M580.0,629.4 L583.9,631.3 L584.9,645.0 L580.0,647.0Z" fill="#caff70" stroke="#caff70" stroke-width="1.4" stroke-linejoin="round"/>
<path d="M375.9,659.4 L383.8,656.4 L385.7,661.3 L379.8,665.2Z" fill="#caff70" stroke="#caff70" stroke-width="1.4" stroke-linejoin="round"/>
<path d="M372.0,682.8 L383.8,679.9 L399.4,675.0 L411.1,671.1 L420.9,675.0 L426.7,678.9 L430.6,686.7 L434.5,698.4 L432.6,706.2 L424.8,712.1 L415.0,716.0 L403.3,714.1 L391.6,712.1 L379.8,708.2 L374.0,700.4 L374.0,690.6Z" fill="#caff70" stroke="#caff70" stroke-width="1.4" stroke-linejoin="round"/>
<path d="M410.1,725.8 L417.0,727.7 L416.0,737.5 L410.1,735.5Z" fill="#caff70" stroke="#caff70" stroke-width="1.4" stroke-linejoin="round"/>
<path d="M350.5,824.0 L356.4,820.1 L368.1,818.1 L375.9,814.2 L387.7,818.1 L391.6,808.4 L399.4,798.6 L395.5,822.0 L399.4,831.8 L405.2,837.7 L399.4,845.5 L387.7,845.5 L379.8,841.6 L372.0,837.7 L364.2,833.8 L358.4,827.9 L352.5,831.8Z" fill="#caff70" stroke="#caff70" stroke-width="1.4" stroke-linejoin="round"/>
<path d="M469.7,900.2 L477.5,894.3 L491.2,890.4 L491.2,933.4 L473.6,932.4 L467.7,925.5 L465.8,911.9Z" fill="#caff70" stroke="#caff70" stroke-width="1.4" stroke-linejoin="round"/>
<path d="M529.8,839.4 L537.7,835.5 L545.5,839.4 L546.4,851.1 L548.4,862.8 L553.3,874.5 L556.2,884.3 L558.2,892.1 L576.7,900.9 L557.2,913.6 L539.6,920.4 L525.9,922.4 L512.3,924.3 L511.3,933.1 L471.2,933.1 L475.2,917.5 L479.1,905.8 L486.9,898.0 L494.7,894.1 L504.5,886.2 L510.3,878.4 L518.1,870.6 L524.0,862.8 L525.9,851.1Z" fill="#caff70" stroke="#caff70" stroke-width="1.4" stroke-linejoin="round"/>
<path d="M498.6,843.3 L506.4,841.3 L507.4,849.1 L500.5,851.1Z" fill="#caff70" stroke="#caff70" stroke-width="1.4" stroke-linejoin="round"/>
<path d="M512.3,847.2 L518.1,845.2 L517.1,858.9 L512.3,870.6 L508.4,874.5 L509.3,862.8Z" fill="#caff70" stroke="#caff70" stroke-width="1.4" stroke-linejoin="round"/>
<path d="M533.8,821.8 L539.6,817.9 L541.6,820.8 L535.7,826.7Z" fill="#caff70" stroke="#caff70" stroke-width="1.4" stroke-linejoin="round"/>
<path d="M496.6,825.7 L502.5,823.8 L501.5,827.7 L497.6,828.6Z" fill="#caff70" stroke="#caff70" stroke-width="1.4" stroke-linejoin="round"/>
<path d="M507.4,736.8 L510.3,728.0 L568.9,728.0 L551.3,755.4 L544.5,764.2 L537.7,759.3 L529.8,755.4 L522.0,749.5 L514.2,743.7Z" fill="#caff70" stroke="#caff70" stroke-width="1.4" stroke-linejoin="round"/>
<path d="M506.4,739.8 L514.2,744.6 L522.0,750.5 L529.8,756.4 L537.7,760.3 L541.6,765.2 L537.7,771.0 L529.8,769.1 L522.0,765.2 L518.1,771.0 L510.3,769.1 L506.4,761.2 L500.5,753.4 L498.6,745.6Z" fill="#caff70" stroke="#caff70" stroke-width="1.4" stroke-linejoin="round"/>
<path d="M150.0,420.0 L424.0,428.0 L433.1,462.0 L425.3,464.9 L413.6,468.8 L405.8,469.8 L399.9,470.8 L394.1,478.6 L386.2,484.5 L378.4,492.3 L366.7,498.1 L355.0,500.1 L343.3,507.9 L331.6,511.8 L315.9,517.7 L304.2,519.6 L296.4,525.5 L284.7,523.5 L274.9,529.4 L263.2,525.5 L249.5,529.4 L210.5,478.6Z" fill="#ffff00" stroke="#ffff00" stroke-width="1.4" stroke-linejoin="round"/>
<path d="M420.0,455.0 L423.9,447.2 L431.7,441.3 L439.5,451.1 L443.4,457.0 L459.1,455.0 L464.9,451.1 L478.6,455.0 L486.4,457.0 L498.1,455.0 L505.9,458.9 L511.8,466.7 L521.6,468.7 L529.4,478.4 L537.2,474.5 L541.1,482.3 L545.0,486.2 L556.7,488.2 L564.5,482.3 L574.3,478.4 L582.1,470.6 L580.2,464.8 L574.3,466.7 L564.5,474.5 L554.8,476.5 L552.8,470.6 L560.6,464.8 L556.7,457.0 L560.6,451.1 L568.4,447.2 L574.3,439.4 L586.0,433.5 L595.8,431.6 L607.5,425.7 L620.0,423.8 L620.0,318.3 L468.8,318.3 L420.0,388.6Z" fill="#ffff00" stroke="#ffff00" stroke-width="1.4" stroke-linejoin="round"/>
<path d="M507.9,501.9 L513.8,496.0 L519.6,498.0 L520.6,503.8 L513.8,507.7 L507.9,509.7Z" fill="#ffff00" stroke="#ffff00" stroke-width="1.4" stroke-linejoin="round"/>
<path d="M499.1,478.4 L504.0,474.5 L505.0,478.4 L501.1,484.3Z" fill="#ffff00" stroke="#ffff00" stroke-width="1.4" stroke-linejoin="round"/>
<path d="M600.0,427.9 L609.8,425.9 L619.5,428.9 L629.3,431.8 L639.1,425.9 L646.9,431.8 L656.6,439.6 L664.5,441.6 L678.1,445.5 L687.9,449.4 L697.7,451.3 L705.5,449.4 L713.3,443.5 L721.1,441.6 L728.9,445.5 L725.0,453.3 L732.8,457.2 L740.6,453.3 L744.5,459.1 L750.4,465.0 L744.5,472.8 L740.6,480.6 L736.7,488.4 L732.8,496.2 L725.0,502.1 L721.1,509.9 L717.2,515.8 L713.3,523.6 L717.2,531.4 L725.0,537.3 L736.7,538.2 L748.4,533.4 L756.2,525.5 L775.8,515.8 L834.4,496.2 L834.4,340.0 L600.0,340.0Z" fill="#ffff00" stroke="#ffff00" stroke-width="1.4" stroke-linejoin="round"/>
<path d="M687.9,504.1 L695.7,503.1 L696.1,509.9 L688.9,510.3Z" fill="#ffff00" stroke="#ffff00" stroke-width="1.4" stroke-linejoin="round"/>
<path d="M518.6,542.5 L522.5,543.4 L522.0,552.2 L519.2,551.2Z" fill="#ffff00" stroke="#ffff00" stroke-width="1.4" stroke-linejoin="round"/>
<path d="M447.3,586.4 L455.2,574.7 L459.1,563.0 L468.8,559.1 L474.7,566.9 L484.5,559.1 L492.3,555.2 L498.1,563.0 L505.9,564.9 L507.9,572.7 L502.0,578.6 L498.1,586.4 L490.3,586.4 L486.4,594.2 L482.5,602.0 L480.5,611.8 L478.6,621.6 L476.6,631.3 L470.8,637.2 L466.9,645.0 L459.1,637.2 L455.2,629.4 L457.1,617.7 L453.2,605.9 L451.2,594.2Z" fill="#ffff00" stroke="#ffff00" stroke-width="1.4" stroke-linejoin="round"/>
<path d="M478.6,633.3 L484.5,631.3 L488.4,641.1 L498.1,645.0 L505.9,648.9 L498.1,650.9 L490.3,648.9 L482.5,645.0Z" fill="#ffff00" stroke="#ffff00" stroke-width="1.4" stroke-linejoin="round"/>
<path d="M455.2,691.9 L461.0,680.2 L468.8,672.3 L476.6,674.3 L482.5,682.1 L488.4,689.9 L494.2,695.8 L498.1,707.5 L496.2,732.9 L449.3,732.9 L451.2,705.5Z" fill="#ffff00" stroke="#ffff00" stroke-width="1.4" stroke-linejoin="round"/>
<path d="M420.0,566.9 L425.9,568.8 L431.7,578.6 L437.6,588.4 L439.5,596.2 L431.7,590.3 L425.9,582.5 L420.0,576.6Z" fill="#ffff00" stroke="#ffff00" stroke-width="1.4" stroke-linejoin="round"/>
<path d="M445.4,605.9 L451.2,609.8 L452.2,617.7 L447.3,615.7Z" fill="#ffff00" stroke="#ffff00" stroke-width="1.4" stroke-linejoin="round"/>
<path d="M537.2,666.5 L545.0,664.5 L548.9,670.4 L545.0,676.2 L539.1,674.3Z" fill="#ffff00" stroke="#ffff00" stroke-width="1.4" stroke-linejoin="round"/>
<path d="M547.0,648.9 L556.7,647.0 L564.5,652.8 L568.4,656.7 L560.6,660.6 L554.8,656.7 L548.9,654.8Z" fill="#ffff00" stroke="#ffff00" stroke-width="1.4" stroke-linejoin="round"/>
<path d="M535.2,689.9 L543.0,682.1 L547.0,686.0 L545.0,695.8 L539.1,701.6 L535.2,697.7Z" fill="#ffff00" stroke="#ffff00" stroke-width="1.4" stroke-linejoin="round"/>
<path d="M529.4,711.4 L537.2,709.5 L539.1,717.3 L537.2,730.9 L531.3,730.9Z" fill="#ffff00" stroke="#ffff00" stroke-width="1.4" stroke-linejoin="round"/>
<path d="M572.3,641.1 L578.2,637.2 L579.2,645.0 L574.3,647.0Z" fill="#ffff00" stroke="#ffff00" stroke-width="1.4" stroke-linejoin="round"/>
<path d="M718.7,523.9 L724.5,520.0 L755.8,520.0 L751.9,527.8 L740.2,535.6 L728.4,537.6 L722.6,531.7Z" fill="#ffff00" stroke="#ffff00" stroke-width="1.4" stroke-linejoin="round"/>
<path d="M730.4,563.0 L742.1,553.2 L744.1,556.1 L734.3,566.9Z" fill="#ffff00" stroke="#ffff00" stroke-width="1.4" stroke-linejoin="round"/>
<path d="M665.9,533.3 L669.8,532.7 L670.2,535.6 L666.9,536.0Z" fill="#ffff00" stroke="#ffff00" stroke-width="1.4" stroke-linejoin="round"/>
<path d="M383.8,684.8 L391.6,682.8 L399.4,686.7 L407.2,690.6 L411.1,698.4 L407.2,704.3 L399.4,708.2 L391.6,706.2 L385.7,700.4 L383.8,692.6Z" fill="#ffff00" stroke="#ffff00" stroke-width="1.4" stroke-linejoin="round"/>
<path d="M399.4,675.0 L411.1,671.5 L419.9,675.0 L420.9,678.9 L411.1,677.0Z" fill="#ffff00" stroke="#ffff00" stroke-width="1.4" stroke-linejoin="round"/>
<path d="M321.2,653.5 L327.1,645.7 L331.0,649.6 L329.1,657.4 L323.2,665.2 L319.3,667.2Z" fill="#ffff00" stroke="#ffff00" stroke-width="1.4" stroke-linejoin="round"/>
<path d="M342.7,620.3 L354.5,608.6 L357.4,608.6 L348.6,620.3Z" fill="#ffff00" stroke="#ffff00" stroke-width="1.4" stroke-linejoin="round"/>
<path d="M426.7,740.0 L430.6,747.8 L426.7,755.6 L422.8,761.5 L415.0,767.3 L407.2,777.1 L403.3,786.9 L399.4,798.6 L395.5,808.4 L395.5,822.0 L399.4,831.8 L405.2,837.7 L415.0,841.6 L426.7,839.6 L434.5,841.6 L446.2,843.5 L456.0,841.6 L461.9,835.7 L469.7,831.8 L477.5,825.9 L483.4,814.2 L485.3,798.6 L491.2,794.7 L491.2,736.1 L426.7,736.1Z" fill="#ffff00" stroke="#ffff00" stroke-width="1.4" stroke-linejoin="round"/>
<path d="M352.5,831.8 L358.4,827.9 L364.2,833.8 L372.0,837.7 L379.8,841.6 L387.7,845.5 L395.5,849.4 L403.3,849.4 L407.2,845.5 L415.0,841.6 L411.1,853.3 L407.2,861.1 L415.0,865.0 L422.8,861.1 L426.7,855.2 L434.5,853.3 L438.4,857.2 L434.5,865.0 L426.7,868.9 L422.8,876.7 L415.0,880.6 L407.2,876.7 L399.4,874.8 L391.6,872.8 L383.8,867.0 L375.9,865.0 L368.1,861.1 L362.3,855.2 L356.4,849.4 L352.5,841.6Z" fill="#ffff00" stroke="#ffff00" stroke-width="1.4" stroke-linejoin="round"/>
<path d="M475.5,904.1 L485.3,900.2 L491.2,902.1 L491.2,931.4 L477.5,930.4 L472.6,919.7 L473.6,909.9Z" fill="#ffff00" stroke="#ffff00" stroke-width="1.4" stroke-linejoin="round"/>
<path d="M438.0,728.0 L506.4,728.0 L504.5,737.8 L498.6,745.6 L500.5,753.4 L506.4,761.2 L514.2,769.1 L518.1,774.9 L506.4,776.9 L498.6,780.8 L490.8,788.6 L486.9,796.4 L484.9,808.1 L482.0,815.9 L479.1,827.7 L475.2,835.5 L469.3,843.3 L459.5,851.1 L451.7,857.0 L438.0,864.8Z" fill="#ffff00" stroke="#ffff00" stroke-width="1.4" stroke-linejoin="round"/>
<path d="M527.9,855.0 L533.8,847.2 L541.6,847.2 L545.5,858.9 L549.4,870.6 L551.3,882.3 L545.5,886.2 L537.7,884.3 L531.8,880.4 L533.8,870.6 L527.9,866.7Z" fill="#ffff00" stroke="#ffff00" stroke-width="1.4" stroke-linejoin="round"/>
<path d="M494.7,901.9 L504.5,892.1 L510.3,896.0 L506.4,905.8 L498.6,913.6 L490.8,921.4 L483.0,931.2 L475.2,931.2 L479.1,917.5 L486.9,909.7Z" fill="#ffff00" stroke="#ffff00" stroke-width="1.4" stroke-linejoin="round"/>
<path d="M514.2,909.7 L525.9,901.9 L533.8,905.8 L525.9,915.5 L518.1,919.5Z" fill="#ffff00" stroke="#ffff00" stroke-width="1.4" stroke-linejoin="round"/>
<path d="M549.4,905.8 L561.1,899.9 L572.8,901.9 L557.2,911.6Z" fill="#ffff00" stroke="#ffff00" stroke-width="1.4" stroke-linejoin="round"/>
<path d="M525.9,741.7 L531.8,735.9 L541.6,733.9 L551.3,735.9 L553.3,741.7 L545.5,749.5 L537.7,751.5 L529.8,749.5Z" fill="#ffff00" stroke="#ffff00" stroke-width="1.4" stroke-linejoin="round"/>
<path d="M150.0,400.0 L420.0,400.0 L425.3,431.7 L417.5,437.6 L405.8,437.6 L392.1,441.5 L378.4,445.4 L362.8,451.2 L347.2,453.2 L335.5,459.1 L327.7,468.8 L319.8,470.8 L315.9,478.6 L308.1,486.4 L294.5,492.3 L290.5,498.1 L288.6,511.8 L280.8,515.7 L269.1,521.6 L263.2,521.6 L249.5,525.5 L190.9,478.6Z" fill="#ffa500" stroke="#ffa500" stroke-width="1.4" stroke-linejoin="round"/>
<path d="M351.1,474.7 L357.0,464.9 L366.7,459.1 L382.3,461.0 L388.2,466.9 L382.3,472.7 L370.6,476.6 L357.0,480.5 L351.1,478.6Z" fill="#ffa500" stroke="#ffa500" stroke-width="1.4" stroke-linejoin="round"/>
<path d="M343.3,494.6 L350.7,494.2 L351.1,499.7 L344.1,500.1Z" fill="#ffa500" stroke="#ffa500" stroke-width="1.4" stroke-linejoin="round"/>
<path d="M315.9,492.7 L321.4,492.3 L321.8,501.6 L316.7,502.0Z" fill="#ffa500" stroke="#ffa500" stroke-width="1.4" stroke-linejoin="round"/>
<path d="M300.3,498.5 L305.8,498.1 L306.2,509.5 L301.1,509.8Z" fill="#ffa500" stroke="#ffa500" stroke-width="1.4" stroke-linejoin="round"/>
<path d="M443.7,102.0 L440.2,110.8 L439.3,117.9 L445.5,123.2 L447.2,130.2 L446.4,146.0 L452.5,148.7 L463.1,147.8 L465.7,156.6 L466.6,165.3 L461.3,168.8 L464.8,175.9 L475.4,174.1 L478.9,167.1 L482.4,175.9 L485.9,182.9 L491.2,193.5 L494.7,207.5 L492.9,218.1 L498.2,221.6 L505.2,226.9 L510.2,234.2 L512.8,248.0 L509.0,260.5 L510.2,268.0 L519.0,278.0 L520.2,286.8 L514.0,288.0 L507.8,283.0 L494.0,281.8 L486.5,289.2 L489.0,303.0 L481.5,313.0 L479.0,323.0 L475.2,344.0 L609.0,344.0 L601.5,335.5 L584.0,320.5 L581.5,309.2 L569.0,308.0 L567.8,300.5 L574.0,293.0 L559.0,263.0 L544.0,228.0 L514.0,200.5 L501.5,163.0 L496.5,120.5 L459.0,90.5Z" fill="#ffa500" stroke="#ffa500" stroke-width="1.4" stroke-linejoin="round"/>
<path d="M511.8,345.6 L521.6,343.7 L529.4,335.9 L537.2,330.0 L552.8,330.0 L550.9,341.7 L547.0,349.5 L545.0,359.3 L537.2,367.1 L531.3,361.2 L521.6,359.3 L511.8,361.2 L509.8,351.5Z" fill="#ffa500" stroke="#ffa500" stroke-width="1.4" stroke-linejoin="round"/>
<path d="M490.3,365.2 L498.1,359.3 L505.9,363.2 L511.8,371.0 L505.9,374.9 L515.7,378.8 L515.7,383.7 L508.9,384.7 L506.9,388.6 L502.0,382.7 L497.1,376.9 L491.3,372.0Z" fill="#ffa500" stroke="#ffa500" stroke-width="1.4" stroke-linejoin="round"/>
<path d="M524.5,381.8 L531.3,378.8 L541.1,381.8 L548.9,386.6 L549.9,394.5 L550.9,400.3 L547.0,401.3 L545.0,394.5 L537.2,390.5 L527.4,394.5 L524.5,388.6Z" fill="#ffa500" stroke="#ffa500" stroke-width="1.4" stroke-linejoin="round"/>
<path d="M500.1,415.9 L511.8,414.0 L525.5,412.0 L533.3,408.1 L539.1,412.0 L540.1,421.8 L537.2,426.7 L529.4,421.8 L521.6,418.9 L511.8,420.8 L502.0,421.8Z" fill="#ffa500" stroke="#ffa500" stroke-width="1.4" stroke-linejoin="round"/>
<path d="M545.0,415.9 L549.9,413.0 L553.8,417.9 L552.8,427.7 L548.9,432.5 L545.0,429.6Z" fill="#ffa500" stroke="#ffa500" stroke-width="1.4" stroke-linejoin="round"/>
<path d="M521.6,443.3 L528.4,436.4 L537.2,434.5 L543.0,439.4 L545.0,449.1 L549.9,453.0 L547.0,458.9 L541.1,466.7 L535.2,468.7 L531.3,462.8 L531.3,455.0 L523.5,451.1Z" fill="#ffa500" stroke="#ffa500" stroke-width="1.4" stroke-linejoin="round"/>
<path d="M427.8,408.1 L431.7,400.3 L439.5,399.3 L444.4,388.6 L447.3,376.9 L455.2,365.2 L462.0,354.4 L471.8,352.5 L474.7,341.7 L477.6,330.0 L488.4,330.0 L486.4,339.8 L478.6,351.5 L480.5,363.2 L474.7,369.1 L468.8,369.1 L466.9,378.8 L471.8,394.5 L470.8,400.3 L459.1,402.3 L464.9,406.2 L478.6,406.2 L488.4,404.2 L494.2,408.1 L492.3,414.0 L482.5,415.9 L472.7,416.9 L468.8,423.8 L482.5,427.7 L478.6,435.5 L476.6,443.3 L478.6,449.1 L472.7,445.2 L468.8,439.4 L459.1,442.3 L447.3,443.3 L443.4,437.4 L444.4,427.7 L439.5,421.8 L437.6,412.0Z" fill="#ffa500" stroke="#ffa500" stroke-width="1.4" stroke-linejoin="round"/>
<path d="M570.4,332.0 L576.2,341.7 L586.0,346.6 L593.8,343.7 L595.8,352.5 L603.6,360.3 L607.5,369.1 L604.6,376.9 L604.6,394.5 L620.0,394.5 L620.0,415.9 L611.4,417.9 L601.6,414.0 L595.8,404.2 L588.0,406.2 L584.1,398.4 L589.9,388.6 L586.0,384.7 L578.2,380.8 L576.2,373.0 L572.3,367.1 L574.3,363.2 L576.2,353.4 L570.4,341.7Z" fill="#ffa500" stroke="#ffa500" stroke-width="1.4" stroke-linejoin="round"/>
<path d="M697.7,410.3 L711.3,410.7 L710.9,415.2 L698.6,415.0Z" fill="#ffa500" stroke="#ffa500" stroke-width="1.4" stroke-linejoin="round"/>
<path d="M717.2,416.6 L728.9,415.8 L732.8,420.1 L721.1,422.0Z" fill="#ffa500" stroke="#ffa500" stroke-width="1.4" stroke-linejoin="round"/>
<path d="M689.8,420.1 L707.4,420.5 L707.0,424.0 L690.8,423.6Z" fill="#ffa500" stroke="#ffa500" stroke-width="1.4" stroke-linejoin="round"/>
<path d="M668.4,430.8 L673.2,431.4 L672.7,439.6 L668.8,438.6Z" fill="#ffa500" stroke="#ffa500" stroke-width="1.4" stroke-linejoin="round"/>
<path d="M682.0,433.8 L686.9,434.1 L685.9,439.6 L682.4,439.2Z" fill="#ffa500" stroke="#ffa500" stroke-width="1.4" stroke-linejoin="round"/>
<path d="M652.7,434.7 L658.6,435.3 L658.2,439.6 L653.1,439.2Z" fill="#ffa500" stroke="#ffa500" stroke-width="1.4" stroke-linejoin="round"/>
<path d="M732.8,518.7 L736.7,519.1 L736.3,523.6 L733.2,523.2Z" fill="#ffa500" stroke="#ffa500" stroke-width="1.4" stroke-linejoin="round"/>
<path d="M645.9,408.4 L652.7,407.4 L652.3,411.3 L646.5,411.9Z" fill="#ffa500" stroke="#ffa500" stroke-width="1.4" stroke-linejoin="round"/>
<path d="M600.0,355.6 L605.9,359.5 L619.5,357.6 L627.3,360.5 L634.2,354.6 L642.0,361.5 L642.0,369.3 L637.1,372.2 L627.3,376.1 L622.5,381.0 L637.1,380.0 L638.1,385.9 L629.3,393.7 L625.4,402.5 L629.3,410.3 L635.2,418.1 L627.3,418.1 L619.5,416.2 L611.7,418.1 L600.0,418.1 L590.2,398.6Z" fill="#ffa500" stroke="#ffa500" stroke-width="1.4" stroke-linejoin="round"/>
<path d="M455.2,582.5 L459.1,576.6 L466.9,572.7 L472.7,576.6 L476.6,586.4 L478.6,566.9 L484.5,563.9 L489.3,566.9 L484.5,572.7 L482.5,578.6 L488.4,576.6 L498.1,575.7 L502.0,578.6 L494.2,584.5 L488.4,586.4 L482.5,596.2 L474.7,598.1 L468.8,600.1 L461.0,596.2 L457.1,590.3Z" fill="#ffa500" stroke="#ffa500" stroke-width="1.4" stroke-linejoin="round"/>
<path d="M464.9,609.8 L470.8,605.9 L478.6,603.0 L479.6,609.8 L476.6,617.7 L477.6,625.5 L472.7,632.3 L468.8,625.5 L467.9,617.7Z" fill="#ffa500" stroke="#ffa500" stroke-width="1.4" stroke-linejoin="round"/>
<path d="M480.5,702.6 L485.4,703.0 L485.0,706.5 L480.9,706.1Z" fill="#ffa500" stroke="#ffa500" stroke-width="1.4" stroke-linejoin="round"/>
<path d="M476.6,712.4 L480.5,712.8 L480.5,720.0 L477.0,720.0Z" fill="#ffa500" stroke="#ffa500" stroke-width="1.4" stroke-linejoin="round"/>
<path d="M427.8,578.6 L431.7,579.6 L431.3,584.5 L428.2,584.1Z" fill="#ffa500" stroke="#ffa500" stroke-width="1.4" stroke-linejoin="round"/>
<path d="M431.7,586.4 L436.6,587.4 L436.2,590.7 L432.1,590.3Z" fill="#ffa500" stroke="#ffa500" stroke-width="1.4" stroke-linejoin="round"/>
<path d="M732.3,520.0 L738.2,520.0 L736.2,522.9 L732.7,522.7Z" fill="#ffa500" stroke="#ffa500" stroke-width="1.4" stroke-linejoin="round"/>
<path d="M401.3,806.4 L407.2,798.6 L415.0,794.7 L422.8,788.8 L426.7,781.0 L430.6,771.2 L436.5,763.4 L442.3,751.7 L440.4,743.9 L446.2,740.0 L454.1,740.0 L452.1,747.8 L456.0,755.6 L461.9,767.3 L456.0,773.2 L450.2,771.2 L446.2,777.1 L442.3,784.9 L436.5,790.8 L434.5,800.5 L442.3,798.6 L450.2,794.7 L458.0,790.8 L465.8,788.8 L473.6,794.7 L479.5,804.5 L477.5,814.2 L471.6,822.0 L465.8,829.8 L461.9,835.7 L454.1,833.8 L444.3,835.7 L434.5,837.7 L428.7,831.8 L420.9,827.9 L411.1,827.9 L403.3,822.0Z" fill="#ffa500" stroke="#ffa500" stroke-width="1.4" stroke-linejoin="round"/>
<path d="M469.7,751.7 L477.5,749.8 L480.4,759.5 L479.5,769.3 L473.6,767.3 L470.7,759.5Z" fill="#ffa500" stroke="#ffa500" stroke-width="1.4" stroke-linejoin="round"/>
<path d="M362.3,841.6 L365.2,840.6 L369.1,849.4 L367.1,851.3Z" fill="#ffa500" stroke="#ffa500" stroke-width="1.4" stroke-linejoin="round"/>
<path d="M383.8,847.4 L387.7,846.4 L393.5,855.2 L391.6,858.2 L385.7,853.3Z" fill="#ffa500" stroke="#ffa500" stroke-width="1.4" stroke-linejoin="round"/>
<path d="M407.2,849.4 L417.0,841.6 L419.9,844.5 L411.1,857.2 L407.2,861.1Z" fill="#ffa500" stroke="#ffa500" stroke-width="1.4" stroke-linejoin="round"/>
<path d="M440.0,735.9 L447.8,733.9 L457.6,735.9 L459.5,745.6 L455.6,755.4 L461.5,765.2 L463.4,773.0 L457.6,776.9 L451.7,769.1 L443.9,765.2 L438.0,767.1Z" fill="#ffa500" stroke="#ffa500" stroke-width="1.4" stroke-linejoin="round"/>
<path d="M469.3,741.7 L475.2,735.9 L479.1,741.7 L480.0,753.4 L481.0,765.2 L477.1,769.1 L472.2,763.2 L470.3,751.5Z" fill="#ffa500" stroke="#ffa500" stroke-width="1.4" stroke-linejoin="round"/>
<path d="M438.0,794.5 L447.8,792.5 L455.6,788.6 L463.4,792.5 L471.2,798.4 L476.1,808.1 L479.1,815.9 L475.2,823.8 L469.3,831.6 L463.4,835.5 L455.6,837.4 L447.8,835.5 L438.0,837.4Z" fill="#ffa500" stroke="#ffa500" stroke-width="1.4" stroke-linejoin="round"/>
<path d="M477.1,784.7 L482.0,782.7 L483.9,794.5 L479.1,796.4Z" fill="#ffa500" stroke="#ffa500" stroke-width="1.4" stroke-linejoin="round"/>
<path d="M492.7,778.8 L500.5,775.9 L502.5,778.8 L494.7,783.7Z" fill="#ffa500" stroke="#ffa500" stroke-width="1.4" stroke-linejoin="round"/>
<path d="M537.7,739.8 L543.5,738.8 L543.1,741.7 L538.0,742.1Z" fill="#ffa500" stroke="#ffa500" stroke-width="1.4" stroke-linejoin="round"/>
<path d="M565.0,900.9 L568.9,899.9 L569.3,903.8 L566.0,904.2Z" fill="#ffa500" stroke="#ffa500" stroke-width="1.4" stroke-linejoin="round"/>
<path d="M100.0,60.0 L440.0,60.0 L443.7,102.0 L440.2,110.8 L439.3,117.9 L445.5,123.2 L447.2,130.2 L446.4,146.0 L452.5,148.7 L463.1,147.8 L465.7,156.6 L466.6,165.3 L461.3,168.8 L464.8,175.9 L475.4,174.1 L478.9,167.1 L482.4,175.9 L485.9,182.9 L491.2,193.5 L494.7,207.5 L492.9,218.1 L498.2,221.6 L505.2,226.9 L510.2,234.2 L512.8,248.0 L509.0,260.5 L510.2,268.0 L519.0,278.0 L520.2,286.8 L514.0,288.0 L507.8,283.0 L494.0,281.8 L486.5,289.2 L489.0,303.0 L481.5,313.0 L479.0,323.0 L475.2,344.0 L476.6,330.0 L474.0,344.0 L471.5,351.5 L461.5,354.0 L459.4,355.5 L452.3,368.8 L446.0,376.6 L443.8,395.3 L439.0,400.8 L434.4,396.9 L428.0,404.7 L425.0,418.8 L423.4,429.7 L419.5,429.7 L418.8,415.6 L412.5,421.9 L406.2,428.9 L393.8,434.0 L378.0,435.2 L367.2,432.8 L364.0,428.0 L359.4,425.0 L346.9,425.0 L315.6,424.7 L300.0,428.0 L298.0,432.8 L278.0,430.0 L268.0,426.5 L258.0,419.0 L245.5,421.5 L238.0,416.5 L228.0,419.0 L214.0,416.5 L208.0,414.0 L203.0,420.0 L188.0,422.8 L178.0,423.0 L160.0,421.0 L100.0,421.0Z" fill="#d7d7d7" stroke="#d7d7d7" stroke-width="1.4" stroke-linejoin="round"/>
<path d="M300.0,428.1 L309.4,429.7 L318.8,428.1 L331.2,429.7 L334.4,434.4 L329.7,443.8 L323.4,446.9 L318.8,453.1 L309.4,459.4 L300.0,457.8 L293.8,450.0 L295.3,437.5Z" fill="#d7d7d7" stroke="#d7d7d7" stroke-width="1.4" stroke-linejoin="round"/>
<path d="M301.3,433.7 L308.1,429.8 L321.8,427.8 L335.5,431.7 L341.3,439.5 L335.5,447.3 L327.7,451.2 L321.8,457.1 L312.0,459.1 L308.1,451.2 L302.3,445.4Z" fill="#d7d7d7" stroke="#d7d7d7" stroke-width="1.4" stroke-linejoin="round"/>
<path d="M364.8,419.0 L417.5,419.0 L413.6,429.8 L401.9,433.7 L386.2,431.7 L374.5,433.7 L366.7,427.8Z" fill="#d7d7d7" stroke="#d7d7d7" stroke-width="1.4" stroke-linejoin="round"/>
<path d="M286.6,465.9 L293.5,464.9 L294.5,477.6 L287.6,478.6Z" fill="#d7d7d7" stroke="#d7d7d7" stroke-width="1.4" stroke-linejoin="round"/>
<path d="M259.3,473.7 L268.1,472.7 L269.1,485.4 L261.2,486.4Z" fill="#d7d7d7" stroke="#d7d7d7" stroke-width="1.4" stroke-linejoin="round"/>
<path d="M230.0,482.5 L240.7,483.5 L241.7,492.3 L232.0,491.3Z" fill="#d7d7d7" stroke="#d7d7d7" stroke-width="1.4" stroke-linejoin="round"/>
<path d="M247.6,498.1 L255.4,499.1 L255.0,507.9 L248.6,506.9Z" fill="#d7d7d7" stroke="#d7d7d7" stroke-width="1.4" stroke-linejoin="round"/>
<path d="M567.8,301.0 L584.0,305.0 L596.5,314.2 L609.0,326.8 L624.0,341.8 L634.0,353.0 L624.0,358.0 L609.0,344.0 L601.5,335.5 L584.0,320.5 L581.5,309.2 L569.0,308.0Z" fill="#d7d7d7" stroke="#d7d7d7" stroke-width="1.4" stroke-linejoin="round"/>
<path d="M544.0,323.0 L551.5,321.8 L554.0,331.8 L546.5,334.2Z" fill="#d7d7d7" stroke="#d7d7d7" stroke-width="1.4" stroke-linejoin="round"/>
<path d="M520.2,274.2 L526.0,275.0 L526.5,283.0 L521.0,283.5Z" fill="#d7d7d7" stroke="#d7d7d7" stroke-width="1.4" stroke-linejoin="round"/>
<path d="M571.4,328.0 L576.2,339.8 L586.0,345.6 L593.8,342.7 L595.8,351.5 L603.6,359.3 L615.3,363.2 L620.0,357.3 L620.0,328.0Z" fill="#d7d7d7" stroke="#d7d7d7" stroke-width="1.4" stroke-linejoin="round"/>
<path d="M574.3,364.8 L585.0,364.2 L586.0,370.0 L576.2,371.0Z" fill="#d7d7d7" stroke="#d7d7d7" stroke-width="1.4" stroke-linejoin="round"/>
<path d="M598.0,338.0 L607.8,338.0 L619.5,356.6 L605.9,359.5 L600.0,355.6Z" fill="#d7d7d7" stroke="#d7d7d7" stroke-width="1.4" stroke-linejoin="round"/>
<path d="M617.6,359.5 L625.4,361.5 L623.4,365.4 L618.6,364.4Z" fill="#d7d7d7" stroke="#d7d7d7" stroke-width="1.4" stroke-linejoin="round"/>
<path d="M597.6,388.4 L602.0,384.5 L602.9,390.3 L599.5,392.8Z" fill="#d7d7d7" stroke="#d7d7d7" stroke-width="1.4" stroke-linejoin="round"/>
<path d="M461.0,583.5 L465.9,582.9 L466.3,587.4 L461.4,587.8Z" fill="#d7d7d7" stroke="#d7d7d7" stroke-width="1.4" stroke-linejoin="round"/>
<path d="M476.6,586.0 L479.6,586.0 L479.6,588.8 L476.6,588.8Z" fill="#d7d7d7" stroke="#d7d7d7" stroke-width="1.4" stroke-linejoin="round"/>
<path d="M409.1,808.4 L415.0,804.5 L418.9,805.4 L417.9,818.1 L415.0,825.0 L409.1,824.0Z" fill="#d7d7d7" stroke="#d7d7d7" stroke-width="1.4" stroke-linejoin="round"/>
<path d="M429.6,822.0 L438.4,818.1 L446.2,817.1 L456.0,814.2 L459.9,818.1 L456.0,825.9 L446.2,827.9 L438.4,825.9 L432.6,825.0Z" fill="#d7d7d7" stroke="#d7d7d7" stroke-width="1.4" stroke-linejoin="round"/>
<path d="M415.0,794.7 L424.8,788.8 L430.6,779.1 L434.5,784.9 L430.6,790.8 L422.8,796.6 L417.0,798.6Z" fill="#d7d7d7" stroke="#d7d7d7" stroke-width="1.4" stroke-linejoin="round"/>
<path d="M463.8,822.0 L469.7,821.1 L470.7,826.9 L465.8,827.9Z" fill="#d7d7d7" stroke="#d7d7d7" stroke-width="1.4" stroke-linejoin="round"/>
<path d="M442.3,738.0 L456.0,738.0 L454.1,743.9 L444.3,744.9Z" fill="#d7d7d7" stroke="#d7d7d7" stroke-width="1.4" stroke-linejoin="round"/>
<path d="M438.0,815.9 L447.8,816.9 L457.6,814.0 L459.5,819.8 L455.6,826.7 L447.8,828.6 L438.0,827.7Z" fill="#d7d7d7" stroke="#d7d7d7" stroke-width="1.4" stroke-linejoin="round"/>
<path d="M447.8,736.8 L454.6,735.9 L455.6,741.7 L448.8,742.7Z" fill="#d7d7d7" stroke="#d7d7d7" stroke-width="1.4" stroke-linejoin="round"/>
<path d="M464.4,822.8 L469.3,821.8 L470.3,827.7 L465.4,828.6Z" fill="#d7d7d7" stroke="#d7d7d7" stroke-width="1.4" stroke-linejoin="round"/>
<path d="M472.7,188.2 L477.1,186.4 L480.6,193.5 L485.9,200.5 L489.4,209.3 L484.1,211.9 L478.9,205.8 L475.4,198.8 L472.7,193.5Z" fill="#ffa500" stroke="#ffa500" stroke-width="1.4" stroke-linejoin="round"/>
<path d="M224.2,397.8 L230.5,394.0 L238.0,394.0 L239.2,402.8 L233.0,404.0 L226.8,402.8Z" fill="#ffa500" stroke="#ffa500" stroke-width="1.4" stroke-linejoin="round"/>
<path d="M208.0,397.8 L213.0,397.8 L213.0,402.8 L208.0,402.8Z" fill="#ffa500" stroke="#ffa500" stroke-width="1.4" stroke-linejoin="round"/>
<path d="M214.2,403.5 L220.5,402.8 L221.0,408.5 L215.0,409.0Z" fill="#ffa500" stroke="#ffa500" stroke-width="1.4" stroke-linejoin="round"/>
<path d="M264.2,411.5 L271.8,411.5 L271.8,416.5 L264.2,416.5Z" fill="#ffa500" stroke="#ffa500" stroke-width="1.4" stroke-linejoin="round"/>
<path d="M290.5,406.5 L300.5,405.2 L300.5,415.2 L293.0,416.5 L289.2,411.5Z" fill="#ffa500" stroke="#ffa500" stroke-width="1.4" stroke-linejoin="round"/>
<path d="M303.0,411.5 L325.5,410.2 L325.5,416.5 L303.0,417.0Z" fill="#ffa500" stroke="#ffa500" stroke-width="1.4" stroke-linejoin="round"/>
<path d="M333.0,391.5 L340.5,386.5 L350.5,380.2 L360.5,381.5 L358.0,387.8 L368.0,389.0 L378.0,387.8 L384.0,390.2 L384.0,409.0 L375.5,402.8 L365.5,409.0 L358.0,424.0 L345.5,424.0 L340.5,419.0 L335.5,415.2 L328.0,411.5 L330.5,404.0 L338.0,401.5 L335.5,395.2Z" fill="#ffa500" stroke="#ffa500" stroke-width="1.4" stroke-linejoin="round"/>
<path d="M332.8,393.8 L337.5,387.5 L350.0,386.7 L351.6,378.9 L359.4,382.8 L359.4,389.1 L365.6,391.4 L373.4,388.3 L381.2,391.4 L383.6,395.3 L373.4,403.1 L365.6,412.5 L357.8,423.4 L346.9,423.4 L340.6,418.8 L335.9,412.5 L329.7,407.8 L328.1,403.9 L335.9,401.6 L340.6,396.9Z" fill="#ffa500" stroke="#ffa500" stroke-width="1.4" stroke-linejoin="round"/>
<path d="M409.4,385.2 L417.2,382.8 L421.9,389.1 L420.3,395.3 L415.6,400.0 L410.9,396.9 L408.6,390.6Z" fill="#ffa500" stroke="#ffa500" stroke-width="1.4" stroke-linejoin="round"/>
<path d="M385.2,396.9 L390.6,391.4 L395.3,392.2 L393.8,401.6 L389.1,406.2 L384.4,403.1Z" fill="#ffa500" stroke="#ffa500" stroke-width="1.4" stroke-linejoin="round"/>
<path d="M300.0,412.5 L309.4,412.5 L315.6,410.2 L325.0,406.2 L325.8,410.9 L315.6,417.2 L315.6,423.4 L300.0,424.2Z" fill="#ffa500" stroke="#ffa500" stroke-width="1.4" stroke-linejoin="round"/>
<path d="M450.0,376.6 L456.2,373.4 L460.0,371.9 L460.0,401.6 L454.7,396.9 L448.4,400.0 L446.1,393.8 L446.9,384.4Z" fill="#ffa500" stroke="#ffa500" stroke-width="1.4" stroke-linejoin="round"/>
<path d="M407.8,409.4 L418.8,415.6 L419.5,428.1 L415.6,426.6 L409.4,418.8Z" fill="#ffa500" stroke="#ffa500" stroke-width="1.4" stroke-linejoin="round"/>
<path d="M230.0,449.3 L241.7,441.5 L249.5,449.3 L245.6,457.1 L235.9,459.1 L230.0,459.1Z" fill="#ffff00" stroke="#ffff00" stroke-width="1.4" stroke-linejoin="round"/>
<path d="M249.5,459.1 L257.3,451.2 L262.2,457.1 L255.4,464.9Z" fill="#ffff00" stroke="#ffff00" stroke-width="1.4" stroke-linejoin="round"/>
<path d="M270.0,452.2 L273.9,451.2 L280.8,463.9 L277.9,465.3Z" fill="#ffff00" stroke="#ffff00" stroke-width="1.4" stroke-linejoin="round"/>
<path d="M298.4,472.7 L308.1,468.8 L315.9,472.7 L312.0,478.6 L302.3,478.6Z" fill="#ffff00" stroke="#ffff00" stroke-width="1.4" stroke-linejoin="round"/>
<path d="M447.2,103.8 L456.0,98.5 L461.3,103.8 L463.1,110.8 L457.8,112.6 L454.2,117.9 L461.3,119.7 L464.8,125.8 L463.1,130.2 L456.0,123.2 L452.5,116.1 L449.0,110.8Z" fill="#ffff00" stroke="#ffff00" stroke-width="1.4" stroke-linejoin="round"/>
<path d="M470.1,133.7 L478.9,128.4 L480.6,119.7 L485.9,121.4 L488.5,131.9 L491.2,142.5 L492.9,154.8 L493.8,165.3 L489.4,167.1 L487.6,158.3 L484.1,146.0 L478.9,142.5 L473.6,146.0 L470.1,140.7Z" fill="#ffff00" stroke="#ffff00" stroke-width="1.4" stroke-linejoin="round"/>
<path d="M509.0,211.8 L519.0,215.5 L527.8,223.0 L532.8,233.0 L537.8,248.0 L542.8,263.0 L547.8,278.0 L554.0,290.5 L559.0,303.0 L564.0,309.2 L556.5,311.8 L549.0,301.8 L544.0,296.8 L534.0,295.5 L531.0,288.0 L534.0,278.0 L529.0,268.0 L531.5,260.5 L526.5,250.5 L522.8,238.0 L520.2,230.5 L514.0,228.0 L510.2,220.5Z" fill="#ffff00" stroke="#ffff00" stroke-width="1.4" stroke-linejoin="round"/>
<path d="M514.0,260.5 L520.2,259.2 L524.0,265.5 L521.5,273.0 L516.5,274.2 L512.8,268.0Z" fill="#ffff00" stroke="#ffff00" stroke-width="1.4" stroke-linejoin="round"/>
<path d="M491.5,320.5 L501.5,315.5 L514.0,321.8 L524.0,328.0 L519.0,338.0 L509.0,344.0 L484.0,344.0 L481.5,338.0 L489.0,328.0Z" fill="#ffff00" stroke="#ffff00" stroke-width="1.4" stroke-linejoin="round"/>
<path d="M544.0,310.5 L559.0,309.2 L569.0,313.0 L574.0,325.5 L571.5,344.0 L539.0,344.0 L534.0,333.0 L544.0,328.0 L549.0,318.0Z" fill="#ffff00" stroke="#ffff00" stroke-width="1.4" stroke-linejoin="round"/>
<path d="M623.9,377.1 L624.9,368.8 L628.8,363.0 L634.7,359.1 L639.1,358.6 L642.5,362.0 L643.5,367.9 L641.5,371.8 L634.7,373.7 L626.9,377.6Z" fill="#ffff00" stroke="#ffff00" stroke-width="1.4" stroke-linejoin="round"/>
<path d="M606.4,378.6 L612.2,374.7 L617.1,374.7 L619.1,378.6 L622.0,382.5 L624.9,384.5 L623.0,389.3 L619.1,391.3 L613.2,389.3 L609.3,385.4Z" fill="#ffff00" stroke="#ffff00" stroke-width="1.4" stroke-linejoin="round"/>
<path d="M590.7,361.0 L594.6,359.1 L597.6,362.0 L595.6,365.9 L591.7,364.9Z" fill="#ffff00" stroke="#ffff00" stroke-width="1.4" stroke-linejoin="round"/>
<path d="M583.9,374.7 L591.7,372.7 L597.6,376.6 L596.6,383.5 L590.7,387.4 L584.9,384.5Z" fill="#ffff00" stroke="#ffff00" stroke-width="1.4" stroke-linejoin="round"/>
<path d="M580.0,350.3 L587.8,351.2 L593.7,349.3 L592.7,354.2 L585.9,359.1 L580.0,360.0Z" fill="#ffff00" stroke="#ffff00" stroke-width="1.4" stroke-linejoin="round"/>
<path d="M189.2,447.8 L200.5,441.5 L213.0,440.2 L218.0,446.5 L210.5,451.5 L200.5,454.0 L190.5,456.5Z" fill="#ffff00" stroke="#ffff00" stroke-width="1.4" stroke-linejoin="round"/>
<path d="M552.8,371.0 L556.7,361.2 L564.5,358.3 L569.4,363.2 L570.4,378.8 L569.4,388.6 L570.4,408.1 L574.3,415.9 L582.1,421.8 L586.0,431.6 L580.2,436.4 L572.3,432.5 L564.5,432.5 L559.6,423.8 L556.7,412.0 L554.8,402.3 L557.7,394.5 L555.7,382.7Z" fill="#caff70" stroke="#caff70" stroke-width="9.0" stroke-linejoin="round"/>
<path d="M727.0,431.8 L736.7,427.9 L742.6,429.8 L743.6,441.6 L738.7,449.4 L740.6,457.2 L734.8,457.2 L728.9,451.3 L723.0,443.5 L717.2,437.7Z" fill="#caff70" stroke="#caff70" stroke-width="16" stroke-linejoin="round"/>
<path d="M628.8,383.5 L638.6,382.5 L640.5,384.0 L644.5,384.9 L648.4,390.3 L653.2,397.1 L658.1,403.0 L664.0,408.4 L660.1,412.8 L652.3,415.7 L644.5,412.8 L638.6,409.8 L632.7,405.9 L629.8,402.0 L630.8,398.1Z" fill="#caff70" stroke="#caff70" stroke-width="8" stroke-linejoin="round"/>
<path d="M438.4,855.2 L446.2,843.5 L452.1,839.6 L451.1,845.5 L444.3,855.2 L440.4,859.1Z" fill="#caff70" stroke="#caff70" stroke-width="6" stroke-linejoin="round"/>
<path d="M457.6,741.7 L467.3,737.8 L469.3,745.6 L465.4,755.4 L459.5,757.3 L456.6,749.5Z" fill="#caff70" stroke="#caff70" stroke-width="6" stroke-linejoin="round"/>
<path d="M483.0,730.0 L496.6,730.0 L494.7,737.8 L486.9,741.7 L482.0,737.8Z" fill="#caff70" stroke="#caff70" stroke-width="6" stroke-linejoin="round"/>
<path d="M440.0,847.2 L447.8,839.4 L450.7,842.3 L443.9,851.1 L440.0,855.0Z" fill="#caff70" stroke="#caff70" stroke-width="6" stroke-linejoin="round"/>
<path d="M751.1,393.4 L758.8,389.3 L765.8,388.1 L775.2,389.3 L781.0,394.5 L775.2,396.9 L767.0,396.3 L757.6,396.9 L752.9,399.2Z" fill="#caff70" stroke="#caff70" stroke-width="4" stroke-linejoin="round"/>
<path d="M791.6,385.2 L798.6,382.8 L805.6,380.5 L810.3,376.4 L813.2,372.9 L822.0,372.3 L829.1,374.0 L829.1,406.3 L822.0,408.6 L817.3,408.6 L815.0,412.1 L811.5,408.6 L816.2,405.1 L820.9,401.6 L817.3,396.9 L816.2,391.0 L815.0,385.2 L810.3,384.0 L805.6,386.3 L800.9,391.0 L797.4,388.7 L792.7,387.5Z" fill="#caff70" stroke="#caff70" stroke-width="4" stroke-linejoin="round"/>
<path d="M805.0,393.4 L809.1,389.8 L812.7,391.0 L812.1,395.7 L806.8,398.6 L804.5,396.9Z" fill="#caff70" stroke="#caff70" stroke-width="4" stroke-linejoin="round"/>
<path d="M783.4,393.4 L786.9,391.0 L788.0,395.1 L785.1,396.3Z" fill="#caff70" stroke="#caff70" stroke-width="4" stroke-linejoin="round"/>
<path d="M740.0,427.3 L742.3,429.7 L742.9,439.1 L740.0,442.6Z" fill="#caff70" stroke="#caff70" stroke-width="4" stroke-linejoin="round"/>
<path d="M761.1,436.1 L764.0,436.1 L764.4,438.5 L761.3,438.7Z" fill="#caff70" stroke="#caff70" stroke-width="4" stroke-linejoin="round"/>
<path d="M455.0,710.8 L462.8,693.2 L470.6,689.3 L472.6,699.1 L466.7,714.7 L458.9,720.5Z" fill="#caff70" stroke="#caff70" stroke-width="6" stroke-linejoin="round"/>
<path d="M457.0,726.4 L466.7,724.5 L470.6,730.3 L464.8,745.9 L460.9,757.7 L455.0,753.8 L457.0,738.1Z" fill="#caff70" stroke="#caff70" stroke-width="6" stroke-linejoin="round"/>
<path d="M482.3,734.2 L490.2,728.4 L496.0,730.3 L492.1,738.1 L484.3,742.0Z" fill="#caff70" stroke="#caff70" stroke-width="6" stroke-linejoin="round"/>
<path d="M510.2,213.0 L516.5,215.5 L524.0,223.0 L520.2,230.5 L514.0,228.0 L510.2,220.5Z" fill="#caff70" stroke="#caff70" stroke-width="1.4" stroke-linejoin="round"/>
<path d="M534.0,266.8 L540.2,270.5 L546.5,283.0 L545.2,288.0 L539.0,285.5 L534.0,275.5Z" fill="#caff70" stroke="#caff70" stroke-width="1.4" stroke-linejoin="round"/>
<path d="M529.0,231.8 L534.0,235.5 L536.5,243.0 L532.8,241.8Z" fill="#caff70" stroke="#caff70" stroke-width="1.4" stroke-linejoin="round"/>
<path d="M556.5,318.0 L564.0,316.8 L566.5,328.0 L562.8,340.5 L556.5,338.0 L555.2,328.0Z" fill="#caff70" stroke="#caff70" stroke-width="1.4" stroke-linejoin="round"/>
<path d="M556.7,330.0 L564.5,330.0 L563.6,341.7 L560.6,349.5 L556.7,355.4 L554.8,347.6 L556.7,339.8Z" fill="#caff70" stroke="#caff70" stroke-width="1.4" stroke-linejoin="round"/>
<path d="M484.5,345.6 L498.1,343.7 L505.9,347.6 L504.0,355.4 L494.2,353.4 L486.4,351.5Z" fill="#caff70" stroke="#caff70" stroke-width="1.4" stroke-linejoin="round"/>
<path d="M480.5,380.8 L486.4,374.9 L492.3,382.7 L498.1,388.6 L494.2,396.4 L504.0,397.4 L511.8,400.3 L517.7,406.2 L509.8,408.1 L502.0,406.2 L494.2,400.3 L486.4,398.4 L480.5,392.5Z" fill="#caff70" stroke="#caff70" stroke-width="1.4" stroke-linejoin="round"/>
<path d="M486.4,417.9 L494.2,419.8 L502.0,425.7 L511.8,427.7 L523.5,431.6 L521.6,439.4 L513.8,438.4 L505.9,433.5 L498.1,431.6 L490.3,427.7Z" fill="#caff70" stroke="#caff70" stroke-width="1.4" stroke-linejoin="round"/>
<path d="M490.3,444.3 L502.0,445.2 L511.8,451.1 L517.7,457.0 L511.8,462.8 L505.9,458.9 L498.1,455.0 L492.3,451.1Z" fill="#caff70" stroke="#caff70" stroke-width="1.4" stroke-linejoin="round"/>
<path d="M734.8,414.2 L742.6,412.3 L744.5,422.0 L740.6,431.8 L734.8,425.9Z" fill="#caff70" stroke="#caff70" stroke-width="1.4" stroke-linejoin="round"/>
<path d="M641.0,418.1 L650.8,414.2 L664.5,412.3 L678.1,414.2 L691.8,418.1 L701.6,424.0 L691.8,425.9 L678.1,422.0 L664.5,420.1 L652.7,422.0 L644.9,425.9Z" fill="#caff70" stroke="#caff70" stroke-width="1.4" stroke-linejoin="round"/>
<path d="M625.9,375.7 L626.9,368.8 L630.8,363.9 L635.7,360.5 L639.6,361.0 L642.5,364.9 L642.5,368.8 L638.6,371.8 L632.7,373.2Z" fill="#caff70" stroke="#caff70" stroke-width="1.4" stroke-linejoin="round"/>
<path d="M494.7,747.6 L504.5,755.4 L514.2,765.2 L512.3,769.1 L502.5,763.2 L494.7,755.4Z" fill="#caff70" stroke="#caff70" stroke-width="1.4" stroke-linejoin="round"/>
<path d="M778.7,388.7 L791.6,385.2 L800.9,391.0 L805.6,399.2 L812.7,401.6 L820.9,401.6 L816.2,405.1 L811.5,408.6 L815.0,412.1 L812.7,418.0 L805.6,415.6 L800.9,418.0 L796.3,410.9 L791.6,405.1 L786.9,399.2 L781.0,395.7Z" fill="#caff70" stroke="#caff70" stroke-width="1.4" stroke-linejoin="round"/>
<path d="M761.1,406.3 L769.3,402.7 L779.8,401.6 L784.5,403.9 L778.7,408.6 L771.6,410.9 L763.4,410.9Z" fill="#caff70" stroke="#caff70" stroke-width="1.4" stroke-linejoin="round"/>
<path d="M799.8,423.8 L805.6,422.7 L810.3,426.2 L810.3,434.4 L806.8,439.1 L803.3,435.6 L800.9,429.7Z" fill="#caff70" stroke="#caff70" stroke-width="1.4" stroke-linejoin="round"/>
<path d="M786.9,425.0 L791.6,423.8 L793.9,426.2 L790.4,428.5Z" fill="#caff70" stroke="#caff70" stroke-width="1.4" stroke-linejoin="round"/>
<path d="M776.3,434.4 L781.0,432.0 L786.9,432.0 L785.7,436.7 L779.8,439.1Z" fill="#caff70" stroke="#caff70" stroke-width="1.4" stroke-linejoin="round"/>
<path d="M740.0,415.6 L744.7,420.3 L751.7,429.7 L758.8,436.7 L767.0,443.8 L775.2,450.8 L778.7,453.1 L775.2,455.5 L768.1,450.8 L759.9,443.8 L751.7,436.7 L744.7,430.9 L740.0,425.0Z" fill="#caff70" stroke="#caff70" stroke-width="1.4" stroke-linejoin="round"/>
<path d="M779.8,454.3 L786.9,457.8 L790.4,464.8 L786.9,466.0 L782.2,460.2Z" fill="#caff70" stroke="#caff70" stroke-width="1.4" stroke-linejoin="round"/>
<path d="M439.4,708.8 L447.2,703.0 L451.1,710.8 L447.2,718.6 L441.3,716.6Z" fill="#caff70" stroke="#caff70" stroke-width="1.4" stroke-linejoin="round"/>
<path d="M447.2,683.4 L458.9,677.6 L466.7,681.5 L464.8,689.3 L455.0,695.2 L449.1,693.2Z" fill="#caff70" stroke="#caff70" stroke-width="1.4" stroke-linejoin="round"/>
<path d="M478.4,708.8 L490.2,712.7 L498.0,718.6 L494.1,724.5 L484.3,720.5Z" fill="#caff70" stroke="#caff70" stroke-width="1.4" stroke-linejoin="round"/>
<path d="M501.9,742.0 L509.7,738.1 L517.5,745.9 L513.6,757.7 L505.8,753.8Z" fill="#caff70" stroke="#caff70" stroke-width="1.4" stroke-linejoin="round"/>
<path d="M400.0,459.4 L409.4,456.2 L418.8,457.8 L425.0,459.4 L423.4,468.8 L415.6,473.4 L406.2,470.3 L398.4,466.4Z" fill="#caff70" stroke="#caff70" stroke-width="1.4" stroke-linejoin="round"/>
<path d="M512.8,215.5 L519.0,219.2 L521.5,225.5 L516.5,226.8 L512.8,221.8Z" fill="#00ff00" stroke="#00ff00" stroke-width="1.4" stroke-linejoin="round"/>
<path d="M537.0,273.0 L541.5,276.8 L544.5,284.2 L540.2,283.0Z" fill="#00ff00" stroke="#00ff00" stroke-width="1.4" stroke-linejoin="round"/>
<path d="M559.0,324.2 L562.8,323.0 L562.8,331.8 L559.0,336.8Z" fill="#00ff00" stroke="#00ff00" stroke-width="1.4" stroke-linejoin="round"/>
<path d="M552.8,371.0 L556.7,361.2 L564.5,358.3 L569.4,363.2 L570.4,378.8 L569.4,388.6 L570.4,408.1 L574.3,415.9 L582.1,421.8 L586.0,431.6 L580.2,436.4 L572.3,432.5 L564.5,432.5 L559.6,423.8 L556.7,412.0 L554.8,402.3 L557.7,394.5 L555.7,382.7Z" fill="#00ff00" stroke="#00ff00" stroke-width="1.4" stroke-linejoin="round"/>
<path d="M557.9,330.0 L561.0,330.0 L560.6,338.8 L558.3,339.8Z" fill="#00ff00" stroke="#00ff00" stroke-width="1.4" stroke-linejoin="round"/>
<path d="M495.2,433.5 L500.1,429.6 L502.0,433.5 L498.1,438.4Z" fill="#00ff00" stroke="#00ff00" stroke-width="1.4" stroke-linejoin="round"/>
<path d="M490.3,445.2 L500.1,446.2 L505.9,449.1 L502.0,453.0 L494.2,451.1Z" fill="#00ff00" stroke="#00ff00" stroke-width="1.4" stroke-linejoin="round"/>
<path d="M502.0,404.2 L509.8,405.2 L507.9,407.1 L503.0,406.6Z" fill="#00ff00" stroke="#00ff00" stroke-width="1.4" stroke-linejoin="round"/>
<path d="M498.1,334.9 L503.0,333.9 L504.0,338.8 L499.1,339.8Z" fill="#00ff00" stroke="#00ff00" stroke-width="1.4" stroke-linejoin="round"/>
<path d="M727.0,431.8 L736.7,427.9 L742.6,429.8 L743.6,441.6 L738.7,449.4 L740.6,457.2 L734.8,457.2 L728.9,451.3 L723.0,443.5 L717.2,437.7Z" fill="#00ff00" stroke="#00ff00" stroke-width="1.4" stroke-linejoin="round"/>
<path d="M626.9,374.7 L628.8,367.9 L632.7,363.5 L637.6,361.5 L641.5,363.0 L642.5,367.9 L638.6,370.8 L632.7,372.7Z" fill="#00ff00" stroke="#00ff00" stroke-width="1.4" stroke-linejoin="round"/>
<path d="M582.9,380.5 L586.3,380.1 L586.6,384.9 L583.4,385.4Z" fill="#00ff00" stroke="#00ff00" stroke-width="1.4" stroke-linejoin="round"/>
<path d="M628.8,383.5 L638.6,382.5 L640.5,384.0 L644.5,384.9 L648.4,390.3 L653.2,397.1 L658.1,403.0 L664.0,408.4 L660.1,412.8 L652.3,415.7 L644.5,412.8 L638.6,409.8 L632.7,405.9 L629.8,402.0 L630.8,398.1Z" fill="#00ff00" stroke="#00ff00" stroke-width="1.4" stroke-linejoin="round"/>
<path d="M438.4,855.2 L446.2,843.5 L452.1,839.6 L451.1,845.5 L444.3,855.2 L440.4,859.1Z" fill="#00ff00" stroke="#00ff00" stroke-width="1.4" stroke-linejoin="round"/>
<path d="M386.7,837.7 L391.6,834.7 L396.4,838.6 L395.5,844.5 L389.6,846.4 L386.7,842.5Z" fill="#00ff00" stroke="#00ff00" stroke-width="1.4" stroke-linejoin="round"/>
<path d="M457.6,741.7 L467.3,737.8 L469.3,745.6 L465.4,755.4 L459.5,757.3 L456.6,749.5Z" fill="#00ff00" stroke="#00ff00" stroke-width="1.4" stroke-linejoin="round"/>
<path d="M483.0,730.0 L496.6,730.0 L494.7,737.8 L486.9,741.7 L482.0,737.8Z" fill="#00ff00" stroke="#00ff00" stroke-width="1.4" stroke-linejoin="round"/>
<path d="M440.0,847.2 L447.8,839.4 L450.7,842.3 L443.9,851.1 L440.0,855.0Z" fill="#00ff00" stroke="#00ff00" stroke-width="1.4" stroke-linejoin="round"/>
<path d="M525.9,894.1 L537.7,886.2 L545.5,888.2 L537.7,896.0 L529.8,899.9Z" fill="#00ff00" stroke="#00ff00" stroke-width="1.4" stroke-linejoin="round"/>
<path d="M545.5,898.0 L553.3,894.1 L557.2,899.9 L549.4,905.8Z" fill="#00ff00" stroke="#00ff00" stroke-width="1.4" stroke-linejoin="round"/>
<path d="M508.4,901.9 L518.1,903.8 L516.2,907.7 L509.3,905.8Z" fill="#00ff00" stroke="#00ff00" stroke-width="1.4" stroke-linejoin="round"/>
<path d="M533.8,904.8 L539.6,903.8 L538.6,908.7 L534.7,909.3Z" fill="#00ff00" stroke="#00ff00" stroke-width="1.4" stroke-linejoin="round"/>
<path d="M518.1,732.0 L525.9,730.0 L527.9,735.9 L522.0,739.8Z" fill="#00ff00" stroke="#00ff00" stroke-width="1.4" stroke-linejoin="round"/>
<path d="M545.5,747.6 L553.3,745.6 L552.3,753.4 L547.4,755.4Z" fill="#00ff00" stroke="#00ff00" stroke-width="1.4" stroke-linejoin="round"/>
<path d="M751.1,393.4 L758.8,389.3 L765.8,388.1 L775.2,389.3 L781.0,394.5 L775.2,396.9 L767.0,396.3 L757.6,396.9 L752.9,399.2Z" fill="#00ff00" stroke="#00ff00" stroke-width="1.4" stroke-linejoin="round"/>
<path d="M791.6,385.2 L798.6,382.8 L805.6,380.5 L810.3,376.4 L813.2,372.9 L822.0,372.3 L829.1,374.0 L829.1,406.3 L822.0,408.6 L817.3,408.6 L815.0,412.1 L811.5,408.6 L816.2,405.1 L820.9,401.6 L817.3,396.9 L816.2,391.0 L815.0,385.2 L810.3,384.0 L805.6,386.3 L800.9,391.0 L797.4,388.7 L792.7,387.5Z" fill="#00ff00" stroke="#00ff00" stroke-width="1.4" stroke-linejoin="round"/>
<path d="M805.0,393.4 L809.1,389.8 L812.7,391.0 L812.1,395.7 L806.8,398.6 L804.5,396.9Z" fill="#00ff00" stroke="#00ff00" stroke-width="1.4" stroke-linejoin="round"/>
<path d="M783.4,393.4 L786.9,391.0 L788.0,395.1 L785.1,396.3Z" fill="#00ff00" stroke="#00ff00" stroke-width="1.4" stroke-linejoin="round"/>
<path d="M740.0,427.3 L742.3,429.7 L742.9,439.1 L740.0,442.6Z" fill="#00ff00" stroke="#00ff00" stroke-width="1.4" stroke-linejoin="round"/>
<path d="M761.1,436.1 L764.0,436.1 L764.4,438.5 L761.3,438.7Z" fill="#00ff00" stroke="#00ff00" stroke-width="1.4" stroke-linejoin="round"/>
<path d="M455.0,710.8 L462.8,693.2 L470.6,689.3 L472.6,699.1 L466.7,714.7 L458.9,720.5Z" fill="#00ff00" stroke="#00ff00" stroke-width="1.4" stroke-linejoin="round"/>
<path d="M457.0,726.4 L466.7,724.5 L470.6,730.3 L464.8,745.9 L460.9,757.7 L455.0,753.8 L457.0,738.1Z" fill="#00ff00" stroke="#00ff00" stroke-width="1.4" stroke-linejoin="round"/>
<path d="M482.3,734.2 L490.2,728.4 L496.0,730.3 L492.1,738.1 L484.3,742.0Z" fill="#00ff00" stroke="#00ff00" stroke-width="1.4" stroke-linejoin="round"/>
<path d="M632.7,368.8 L636.6,363.9 L641.0,364.9 L641.0,368.8 L635.7,370.8Z" fill="#66cd00" stroke="#66cd00" stroke-width="1.4" stroke-linejoin="round"/>
<path d="M626.9,382.5 L630.8,381.5 L638.6,383.0 L634.7,391.3 L631.3,394.7 L628.8,390.3 L627.9,385.4Z" fill="#66cd00" stroke="#66cd00" stroke-width="1.4" stroke-linejoin="round"/>
<path d="M638.6,384.5 L643.5,387.4 L648.4,394.2 L646.4,397.1 L640.5,398.1 L635.7,396.2 L632.7,398.1 L634.7,392.3Z" fill="#66cd00" stroke="#66cd00" stroke-width="1.4" stroke-linejoin="round"/>
<path d="M762.3,389.8 L768.1,389.3 L769.3,392.2 L763.4,393.6Z" fill="#66cd00" stroke="#66cd00" stroke-width="1.4" stroke-linejoin="round"/>
<path d="M813.8,374.0 L820.9,373.4 L820.3,376.4 L815.0,377.0Z" fill="#66cd00" stroke="#66cd00" stroke-width="1.4" stroke-linejoin="round"/>
<path d="M603.6,582.5 L610.4,580.5 L611.4,588.4 L604.6,590.3Z" fill="#66cd00" stroke="#66cd00" stroke-width="1.4" stroke-linejoin="round"/>
<path d="M490.3,588.4 L498.1,586.4 L499.1,594.2 L492.3,598.1Z" fill="#66cd00" stroke="#66cd00" stroke-width="1.4" stroke-linejoin="round"/>
<path d="M486.4,668.4 L498.1,664.5 L505.9,670.4 L502.0,680.2 L494.2,682.1 L486.4,676.2Z" fill="#66cd00" stroke="#66cd00" stroke-width="1.4" stroke-linejoin="round"/>
<path d="M604.4,584.5 L609.3,581.5 L610.3,586.4 L605.4,590.3Z" fill="#66cd00" stroke="#66cd00" stroke-width="1.4" stroke-linejoin="round"/>
<path d="M367.5,529.4 L380.0,526.2 L389.4,532.5 L383.1,540.3 L372.2,538.8Z" fill="#66cd00" stroke="#66cd00" stroke-width="1.4" stroke-linejoin="round"/>
<path d="M331.6,543.4 L340.9,541.9 L345.6,551.2 L342.5,560.6 L334.7,557.5Z" fill="#66cd00" stroke="#66cd00" stroke-width="1.4" stroke-linejoin="round"/>
<path d="M484.5,641.1 L494.2,645.0 L502.0,654.8 L494.2,660.6 L486.4,656.7 L478.6,654.8 L476.6,647.0Z" fill="#00ff00" stroke="#00ff00" stroke-width="1.4" stroke-linejoin="round"/>
<path d="M488.4,602.0 L496.2,598.1 L502.0,604.0 L498.1,611.8 L490.3,613.8Z" fill="#00ff00" stroke="#00ff00" stroke-width="1.4" stroke-linejoin="round"/>
<path d="M478.9,119.7 L482.4,120.5 L485.9,130.2 L482.4,132.8Z" fill="#caff70" stroke="#caff70" stroke-width="1.4" stroke-linejoin="round"/>
<path d="M389.6,839.2 L393.1,838.6 L393.5,842.0 L390.0,842.5Z" fill="#caff70" stroke="#caff70" stroke-width="1.4" stroke-linejoin="round"/>
<path d="M799.2,401.0 L802.7,401.6 L804.5,405.1 L801.5,406.3Z" fill="#ffa500" stroke="#ffa500" stroke-width="1.4" stroke-linejoin="round"/>
<path d="M777.5,413.3 L781.0,408.6 L786.3,406.8 L786.9,409.8 L782.2,414.5 L779.3,419.1Z" fill="#ffa500" stroke="#ffa500" stroke-width="1.4" stroke-linejoin="round"/>
<path d="M755.2,415.0 L763.4,415.6 L765.8,418.0 L761.1,420.9 L757.6,419.1Z" fill="#ffa500" stroke="#ffa500" stroke-width="1.4" stroke-linejoin="round"/>
<path d="M747.6,416.2 L750.5,416.2 L750.5,418.6 L747.6,418.6Z" fill="#ffa500" stroke="#ffa500" stroke-width="1.4" stroke-linejoin="round"/>
<path d="M751.1,420.9 L755.2,421.5 L754.6,423.8 L751.5,423.6Z" fill="#ffa500" stroke="#ffa500" stroke-width="1.4" stroke-linejoin="round"/>
<path d="M759.9,444.9 L763.4,443.8 L767.5,449.6 L767.5,453.7 L763.4,453.1 L760.5,449.6Z" fill="#ffa500" stroke="#ffa500" stroke-width="1.4" stroke-linejoin="round"/>
<path d="M751.7,452.0 L756.4,450.2 L757.6,453.1 L752.9,456.6 L747.0,456.6Z" fill="#ffa500" stroke="#ffa500" stroke-width="1.4" stroke-linejoin="round"/>
<path d="M768.1,454.3 L771.6,453.1 L776.3,456.1 L771.6,457.8Z" fill="#ffa500" stroke="#ffa500" stroke-width="1.4" stroke-linejoin="round"/>
<path d="M796.3,446.1 L800.9,446.7 L803.3,450.8 L800.9,455.5 L797.4,461.3 L793.9,462.5 L795.1,456.6 L798.6,452.0Z" fill="#ffa500" stroke="#ffa500" stroke-width="1.4" stroke-linejoin="round"/>
<path d="M810.3,385.2 L815.0,385.2 L816.2,391.0 L817.3,396.9 L820.9,401.6 L812.7,401.6 L808.0,399.2 L810.3,394.5 L812.7,389.8Z" fill="#ffff00" stroke="#ffff00" stroke-width="1.4" stroke-linejoin="round"/>
</g></g>
<path d="M358.0,123.0 L358.8,119.5 L361.0,117.6 L362.0,119.0 L360.2,123.0" fill="none" stroke="#333" stroke-width="0.6"/>
<path d="M451.5,527.8 L464.0,529.0" fill="none" stroke="#333" stroke-width="0.6"/>
<path d="M531.5,88.0 L539.0,103.0 L541.0,120.0 L542.8,148.0 L548.0,160.0 L556.5,168.0 L569.0,171.8 L580.0,182.0 L591.5,195.5 L599.0,218.0 L612.5,238.0 L624.0,258.0 L625.5,275.0 L627.8,288.0 L633.7,320.0 L638.6,327.8 L637.6,339.5 L644.5,351.2 L654.2,353.7 L667.9,351.2 L682.5,350.0 L691.0,346.5 L695.0,338.0 L717.0,339.0 L730.0,338.0 L745.0,324.0 L760.0,322.0 L772.0,318.0 L780.0,308.0 L836.0,288.0" fill="none" stroke="#333" stroke-width="0.6"/>
<path d="M308.9,735.3 L305.0,747.8 L308.1,755.6 L305.8,765.0 L305.0,772.8 L309.7,783.8 L310.5,796.2 L309.8,797.5 L318.5,812.5 L328.5,825.0 L336.0,837.5 L339.8,858.8 L351.0,862.0 L349.8,856.2" fill="none" stroke="#333" stroke-width="0.6"/>
<path d="M312.8,760.3 L319.8,761.9 L323.0,775.9 L326.1,790.0 L322.2,800.0 L321.0,801.2 L339.8,815.0" fill="none" stroke="#333" stroke-width="0.6"/>
<path d="M421.0,880.0 L424.0,895.0 L428.0,915.0 L431.0,930.0 L428.0,938.0" fill="none" stroke="#333" stroke-width="0.6"/>
<path d="M571.2,903.8 L573.0,915.0 L572.0,938.0" fill="none" stroke="#333" stroke-width="0.6"/>
<path d="M444.8,931.2 L443.0,938.0" fill="none" stroke="#333" stroke-width="0.6"/>
<path d="M369.8,719.7 L367.5,705.6 L365.9,686.9 L365.2,671.2 L370.6,658.8 L380.0,654.1 L392.5,650.9 L405.0,649.4 L414.4,650.9 L419.8,654.1 L423.8,658.8 L426.9,665.0 L423.8,674.4 L419.8,682.2 L415.9,688.4 L409.7,696.2 L403.4,704.1 L417.5,706.4 L408.1,714.2 L392.5,713.4 L380.0,711.1 L369.8,719.7" fill="none" stroke="#333" stroke-width="0.6"/>
<path d="M185.0,173.8 L208.5,173.8 L208.5,123.0 L401.5,123.0 L410.0,129.0 L421.5,128.0 L425.0,118.0 L438.5,115.0 L444.0,101.8 L453.0,99.0 L458.5,94.0" fill="none" stroke="#000" stroke-width="1.1" stroke-linejoin="round" stroke-linecap="round"/>
<path d="M458.5,94.0 L460.0,100.5 L471.5,105.5 L488.0,120.5 L490.0,135.5 L496.5,148.0 L495.0,163.0 L500.0,188.0 L504.0,203.0 L514.0,210.5 L526.5,220.5 L534.0,233.0 L540.0,253.0 L544.0,268.0 L550.0,283.0 L556.5,293.0 L566.5,300.5 L584.0,305.5 L596.5,315.5 L600.5,320.0 L603.4,322.9 L609.3,324.9 L613.2,327.8 L617.1,333.7 L618.6,339.5 L623.0,341.5 L626.9,345.4 L632.7,349.3 L635.2,352.7 L638.6,357.1 L641.5,361.0 L643.0,366.9 L641.5,370.8 L636.6,372.7 L630.8,374.7 L625.9,377.6 L623.0,380.1 L622.0,381.5 L623.9,382.5 L626.9,381.0 L630.8,379.6 L636.6,380.1 L639.6,383.5 L644.5,384.5 L648.4,390.3 L653.2,397.1 L658.1,403.0 L664.0,408.4 L671.8,408.9 L680.0,407.4 L685.0,405.0 L697.5,398.0 L705.0,399.5 L717.5,400.0 L725.0,395.0 L735.0,390.0 L740.0,390.4 L747.0,391.6 L754.1,391.0 L758.8,388.1 L765.8,386.9 L772.8,388.1 L779.8,386.9 L786.9,384.0 L791.6,382.2 L798.6,381.6 L805.6,379.3 L810.3,375.8 L812.7,372.3 L817.3,370.9 L822.0,371.7 L828.5,373.4 L827.9,378.1 L825.5,382.8 L825.0,389.8 L826.1,391.0 L825.0,396.9 L825.5,403.9 L827.9,406.2 L831.4,406.8 L830.8,408.6 L822.0,408.6 L819.7,413.3 L819.1,420.3 L817.9,429.7 L816.2,434.4 L812.7,440.2 L808.0,444.9 L805.6,450.8 L802.1,457.8 L798.6,462.5 L795.1,467.2 L792.5,476.5 L785.0,489.0 L777.5,504.0 L772.5,516.5 L762.5,529.0 L752.5,541.5 L742.5,556.5 L730.0,571.5 L717.5,584.0 L706.0,596.2 L690.0,605.0 L675.0,615.0 L657.5,627.5 L640.0,642.5 L625.0,660.0 L610.0,677.5 L600.0,692.5 L592.5,702.5 L580.0,710.0 L570.0,715.0 L567.5,722.5 L560.0,740.0 L550.0,755.0 L544.0,764.0 L542.5,767.5 L538.8,782.5 L533.8,795.0 L535.0,806.2 L543.8,815.0 L550.0,822.5 L545.0,837.5 L547.5,850.0 L547.5,860.0 L551.2,870.0 L555.0,882.5 L556.2,892.5 L566.2,896.2 L572.5,900.0 L571.2,903.8" fill="none" stroke="#000" stroke-width="1.5" stroke-linejoin="round" stroke-linecap="round"/>
<path d="M571.2,903.8 L565.0,908.8 L553.8,913.8 L545.0,918.8 L535.0,921.2 L526.2,926.2 L516.2,923.8 L511.2,927.5 L502.5,933.8 L495.0,932.5 L486.2,931.2 L481.2,933.8 L472.5,932.5 L465.0,926.2 L457.5,928.8 L445.0,930.0 L442.5,925.0 L435.0,912.5 L430.0,892.5 L421.0,880.0 L416.0,883.8 L406.0,882.5 L396.0,877.5 L386.0,873.8 L373.5,870.0 L366.0,866.2 L358.5,860.0 L351.0,858.8" fill="none" stroke="#000" stroke-width="1.2" stroke-linejoin="round" stroke-linecap="round"/>
<path d="M351.0,858.8 L349.8,856.2 L342.2,845.0 L336.0,830.0 L331.0,817.5 L322.2,806.2 L318.3,800.0 L317.5,790.0 L315.9,780.6 L313.6,771.2 L312.8,760.3 L311.2,752.5 L310.5,743.1 L309.7,733.8 L308.9,726.7 L305.0,721.2 L305.0,717.3 L300.3,716.6 L300.3,712.7 L303.4,710.3 L307.3,704.1 L306.6,699.4 L309.7,693.9 L313.6,689.2 L317.5,686.1 L316.7,682.2 L317.5,671.2 L318.3,670.0 L319.8,660.6 L321.4,651.2 L325.3,643.4 L326.1,636.4 L330.0,634.1 L333.1,627.8 L339.4,624.7 L345.6,618.4 L351.9,612.2 L357.3,605.2 L353.4,601.2 L348.8,599.7 L344.1,596.6 L347.2,588.0 L344.8,582.5 L348.8,573.9 L347.2,570.0" fill="none" stroke="#000" stroke-width="1.5" stroke-linejoin="round" stroke-linecap="round"/>
<path d="M347.2,570.0 L340.2,570.0 L340.2,566.1 L336.2,563.8 L331.6,560.6 L326.9,555.2 L323.0,551.2 L320.6,546.6 L315.2,545.0 L312.8,547.3 L308.1,552.0 L303.4,550.5 L300.3,548.1 L295.6,548.9 L289.4,553.6 L284.7,552.0 L280.0,548.9 L275.5,544.0 L263.0,529.0 L258.0,519.0 L244.0,510.0 L240.5,501.5 L233.0,489.0 L214.0,478.0 L214.0,471.5 L203.0,461.5 L189.0,456.5 L189.0,449.0 L174.0,448.0 L173.0,440.0 L177.0,436.5 L178.0,421.5 L176.6,420.0 L170.3,410.0 L164.1,403.8 L158.6,395.9 L160.9,389.7 L160.2,385.0 L155.5,383.4 L151.6,377.2 L152.3,369.4 L149.2,368.6 L146.9,360.0 L148.4,355.3 L142.2,353.0 L135.9,353.8 L134.4,349.0 L136.7,344.4 L142.2,341.2 L144.5,337.3 L142.2,331.9 L140.6,327.2 L145.3,321.7 L150.8,318.6 L149.2,315.5 L146.9,310.0 L148.4,306.9 L154.7,305.3 L153.9,302.2 L156.2,297.5 L160.9,289.7 L160.2,283.4 L164.1,279.5 L170.3,280.3 L176.6,278.8 L185.2,280.0 L185.0,173.8 L208.5,173.8" fill="none" stroke="#000" stroke-width="1.1" stroke-linejoin="round" stroke-linecap="round"/>
<path d="M526.5,223.0 L519.0,233.0 L511.5,235.5 L501.5,243.0 L493.0,245.5 L490.0,260.5 L483.0,285.5 L479.0,295.5 L480.0,313.0" fill="none" stroke="#000" stroke-width="1.6" stroke-linejoin="round"/>
<path d="M480.0,313.0 L479.0,323.0 L474.0,344.0 L471.5,351.5 L461.5,354.0 L456.5,361.5 L446.5,374.0 L444.0,386.5 L442.8,395.0 L435.0,397.8 L430.0,404.0" fill="none" stroke="#000" stroke-width="1.6" stroke-linejoin="round"/>
<path d="M480.0,314.0 L494.0,310.5 L501.5,315.5 L513.0,300.5 L524.0,310.5 L539.0,305.5 L544.0,309.0 L554.0,307.0 L559.0,310.5 L566.5,309.0 L581.5,322.0 L601.5,337.1 L610.3,346.4 L619.1,357.6" fill="none" stroke="#000" stroke-width="1.6" stroke-linejoin="round"/>
<path d="M619.1,357.6 L621.5,357.1 L624.9,360.0 L627.9,359.6 L628.8,356.6 L631.8,354.2 L635.2,352.7" fill="none" stroke="#000" stroke-width="1.6" stroke-linejoin="round"/>
<path d="M619.1,357.6 L613.2,366.9 L605.4,376.6 L604.2,382.5 L604.4,395.2 L609.3,395.7 L619.1,393.2 L624.9,392.3 L628.8,394.2 L631.3,394.7" fill="none" stroke="#000" stroke-width="1.6" stroke-linejoin="round"/>
<path d="M631.3,394.7 L639.6,383.5" fill="none" stroke="#000" stroke-width="1.6" stroke-linejoin="round"/>
<path d="M631.3,394.7 L625.4,404.0 L627.9,408.9 L632.7,415.7 L637.5,421.5 L646.0,431.5 L657.5,441.5 L725.0,465.8 L750.0,465.8 L680.0,538.5 L657.5,538.5 L642.5,541.5 L632.5,548.0 L627.5,554.0 L610.0,557.8 L605.0,561.5" fill="none" stroke="#000" stroke-width="1.6" stroke-linejoin="round"/>
<path d="M605.0,561.5 L586.0,587.5 L586.0,675.0 L600.0,692.5" fill="none" stroke="#000" stroke-width="1.6" stroke-linejoin="round"/>
<path d="M605.0,561.5 L591.5,561.5 L581.5,555.0 L559.0,565.0 L550.0,576.5 L544.0,572.8 L519.0,569.0 L501.5,559.0 L489.0,551.0 L467.8,547.8 L465.0,541.5 L464.0,529.0 L451.5,527.8" fill="none" stroke="#000" stroke-width="1.6" stroke-linejoin="round"/>
<path d="M430.0,404.0 L427.8,416.5 L424.0,429.0 L424.0,451.5 L409.0,455.0 L402.8,457.8 L401.5,464.0 L397.8,467.8 L400.0,471.5 L411.5,472.8 L419.0,479.0 L424.0,487.8 L434.0,495.0 L442.8,501.5 L444.0,514.0 L449.0,522.8 L451.5,527.8" fill="none" stroke="#000" stroke-width="1.6" stroke-linejoin="round"/>
<path d="M451.5,527.8 L421.5,555.0" fill="none" stroke="#000" stroke-width="1.6" stroke-linejoin="round"/>
<path d="M421.4,555.2 L417.5,557.5 L409.7,566.1 L403.4,565.3 L397.2,563.8 L389.4,566.1 L383.1,567.7 L376.9,571.6 L373.0,570.0 L369.1,565.3 L362.8,568.4 L356.6,566.1 L350.3,566.9 L347.2,570.0" fill="none" stroke="#000" stroke-width="1.6" stroke-linejoin="round"/>
<path d="M421.5,555.0 L424.0,561.5 L431.0,570.0 L436.0,585.0 L442.0,600.0 L443.5,612.5 L439.8,625.0 L431.0,635.0 L424.8,645.0 L419.8,653.8 L418.5,678.8" fill="none" stroke="#000" stroke-width="1.6" stroke-linejoin="round"/>
<path d="M343.3,678.6 L418.5,678.8" fill="none" stroke="#000" stroke-width="1.6" stroke-linejoin="round"/>
<path d="M418.5,678.8 L450.0,695.0 L505.0,725.0 L507.5,732.5 L505.0,736.0 L544.0,764.0" fill="none" stroke="#000" stroke-width="1.6" stroke-linejoin="round"/>
<path d="M189.0,449.0 L198.0,444.0 L200.5,431.5 L205.5,424.0 L210.5,411.5 L229.0,408.5 L233.0,416.5 L240.5,428.0 L249.0,430.0 L263.0,428.0 L277.0,428.0 L280.5,433.5 L297.0,433.5 L304.0,424.5 L315.5,424.0 L315.5,416.5 L325.5,411.0 L345.5,424.5 L358.0,424.0 L374.0,403.0 L379.0,392.0 L378.0,373.0 L391.5,373.0 L391.5,365.0 L404.0,365.0 L400.0,381.5 L402.8,400.0 L411.5,406.5 L419.0,414.0 L419.0,430.0 L424.0,430.0 L424.0,419.0 L427.8,406.5 L430.0,404.0" fill="none" stroke="#000" stroke-width="1.6" stroke-linejoin="round"/>
<path d="M429.4,546.2 L465.3,546.0" fill="none" stroke="#000" stroke-width="1.6" stroke-linejoin="round"/>
<path d="M317.5,686.1 L322.2,686.9 L325.3,689.2 L330.0,685.3 L333.1,682.2 L337.0,680.3 L343.3,678.6" fill="none" stroke="#000" stroke-width="1.6" stroke-linejoin="round"/>
<path d="M337.0,680.3 L340.2,686.9 L344.1,691.6 L346.4,697.8 L347.2,705.6 L345.6,710.3 L339.4,711.9 L337.0,710.3" fill="none" stroke="#000" stroke-width="1.6" stroke-linejoin="round"/>
<path d="M337.0,710.3 L331.6,711.9 L326.9,711.1 L325.3,716.6 L322.2,720.5 L315.9,721.2 L312.0,721.2 L310.5,717.3 L305.0,717.3" fill="none" stroke="#000" stroke-width="1.6" stroke-linejoin="round"/>
<path d="M337.0,710.3 L336.2,716.6 L337.8,721.2 L340.9,724.4 L346.4,725.2 L345.6,732.2 L341.7,734.5 L338.6,738.4 L334.7,744.7 L330.0,752.5 L324.5,757.2 L319.8,760.3 L312.8,760.3" fill="none" stroke="#000" stroke-width="1.6" stroke-linejoin="round"/>
<path d="M555.2,770.0 L559.1,771.0 L558.2,780.8 L554.3,784.7 L552.3,778.8Z" fill="#fff" stroke="#000" stroke-width="1.4" stroke-linejoin="round"/>
<path d="M544.5,790.5 L547.4,792.5 L550.4,800.3 L552.3,807.1 L547.4,806.2 L543.5,800.3 L542.5,794.5Z" fill="#fff" stroke="#000" stroke-width="1.4" stroke-linejoin="round"/>
<path d="M554.3,843.3 L560.1,836.4 L559.1,843.3 L556.2,846.2Z" fill="#fff" stroke="#000" stroke-width="1.4" stroke-linejoin="round"/>
<circle cx="513.9" cy="197.3" r="0.71" fill="#000"/>
<circle cx="530.2" cy="200.1" r="0.77" fill="#000"/>
<circle cx="527.6" cy="204.0" r="0.77" fill="#000"/>
<circle cx="513.3" cy="194.3" r="0.40" fill="#000"/>
<circle cx="516.6" cy="203.7" r="0.59" fill="#000"/>
<circle cx="520.1" cy="202.6" r="0.45" fill="#000"/>
<circle cx="518.5" cy="213.9" r="0.69" fill="#000"/>
<circle cx="526.8" cy="210.5" r="0.41" fill="#000"/>
<circle cx="518.7" cy="201.2" r="0.35" fill="#000"/>
<circle cx="523.8" cy="200.5" r="0.45" fill="#000"/>
<circle cx="533.1" cy="201.9" r="0.48" fill="#000"/>
<circle cx="528.3" cy="201.5" r="0.66" fill="#000"/>
<circle cx="525.0" cy="214.4" r="0.66" fill="#000"/>
<circle cx="533.4" cy="200.8" r="0.48" fill="#000"/>
<circle cx="518.7" cy="205.3" r="0.42" fill="#000"/>
<circle cx="525.7" cy="204.7" r="0.62" fill="#000"/>
<circle cx="530.0" cy="203.2" r="0.50" fill="#000"/>
<circle cx="516.9" cy="211.6" r="0.57" fill="#000"/>
<circle cx="518.2" cy="208.2" r="0.67" fill="#000"/>
<circle cx="536.3" cy="207.8" r="0.36" fill="#000"/>
<circle cx="521.0" cy="193.3" r="0.36" fill="#000"/>
<circle cx="522.3" cy="198.4" r="0.61" fill="#000"/>
<circle cx="570.5" cy="276.1" r="0.47" fill="#000"/>
<circle cx="572.2" cy="275.3" r="0.84" fill="#000"/>
<circle cx="579.8" cy="271.9" r="0.57" fill="#000"/>
<circle cx="565.3" cy="279.9" r="0.85" fill="#000"/>
<circle cx="575.5" cy="280.2" r="0.87" fill="#000"/>
<circle cx="569.9" cy="275.2" r="0.96" fill="#000"/>
<circle cx="572.8" cy="278.0" r="0.75" fill="#000"/>
<circle cx="573.0" cy="274.2" r="0.95" fill="#000"/>
<circle cx="564.8" cy="275.0" r="0.56" fill="#000"/>
<circle cx="569.9" cy="277.4" r="0.45" fill="#000"/>
<circle cx="562.7" cy="263.4" r="0.45" fill="#000"/>
<circle cx="583.0" cy="279.5" r="0.70" fill="#000"/>
<circle cx="565.9" cy="277.6" r="0.74" fill="#000"/>
<circle cx="571.5" cy="272.1" r="0.62" fill="#000"/>
<circle cx="579.5" cy="279.1" r="0.37" fill="#000"/>
<circle cx="559.5" cy="276.3" r="0.43" fill="#000"/>
<circle cx="567.6" cy="266.3" r="0.76" fill="#000"/>
<circle cx="569.6" cy="274.2" r="0.63" fill="#000"/>
<circle cx="574.7" cy="282.2" r="0.54" fill="#000"/>
<circle cx="550.8" cy="280.4" r="0.90" fill="#000"/>
<circle cx="574.4" cy="275.3" r="0.67" fill="#000"/>
<circle cx="568.3" cy="271.5" r="0.54" fill="#000"/>
<circle cx="566.7" cy="277.3" r="0.60" fill="#000"/>
<circle cx="581.6" cy="275.3" r="0.76" fill="#000"/>
<circle cx="564.5" cy="276.0" r="0.41" fill="#000"/>
<circle cx="567.8" cy="282.9" r="0.91" fill="#000"/>
<circle cx="563.3" cy="281.4" r="0.85" fill="#000"/>
<circle cx="566.5" cy="270.4" r="0.84" fill="#000"/>
<circle cx="563.9" cy="280.7" r="0.53" fill="#000"/>
<circle cx="560.5" cy="276.6" r="0.80" fill="#000"/>
<circle cx="565.7" cy="285.3" r="0.77" fill="#000"/>
<circle cx="568.3" cy="275.7" r="0.71" fill="#000"/>
<circle cx="569.0" cy="282.0" r="0.65" fill="#000"/>
<circle cx="571.9" cy="270.7" r="0.87" fill="#000"/>
<circle cx="564.9" cy="280.7" r="0.83" fill="#000"/>
<circle cx="571.2" cy="272.7" r="0.90" fill="#000"/>
<circle cx="574.2" cy="271.5" r="0.98" fill="#000"/>
<circle cx="574.8" cy="274.7" r="0.69" fill="#000"/>
<circle cx="573.8" cy="282.6" r="0.96" fill="#000"/>
<circle cx="561.4" cy="276.9" r="0.82" fill="#000"/>
<circle cx="568.6" cy="273.6" r="0.86" fill="#000"/>
<circle cx="562.5" cy="273.1" r="0.62" fill="#000"/>
<circle cx="562.8" cy="271.2" r="0.76" fill="#000"/>
<circle cx="568.8" cy="275.1" r="0.45" fill="#000"/>
<circle cx="562.2" cy="278.1" r="0.49" fill="#000"/>
<circle cx="566.2" cy="270.8" r="0.38" fill="#000"/>
<circle cx="565.5" cy="276.5" r="0.39" fill="#000"/>
<circle cx="571.9" cy="278.6" r="0.47" fill="#000"/>
<circle cx="569.5" cy="277.0" r="0.65" fill="#000"/>
<circle cx="564.0" cy="279.8" r="0.73" fill="#000"/>
<circle cx="569.8" cy="284.6" r="0.35" fill="#000"/>
<circle cx="565.7" cy="277.8" r="0.62" fill="#000"/>
<circle cx="576.1" cy="281.0" r="0.59" fill="#000"/>
<circle cx="575.7" cy="277.2" r="0.41" fill="#000"/>
<circle cx="564.6" cy="275.0" r="0.73" fill="#000"/>
<circle cx="577.9" cy="274.1" r="0.62" fill="#000"/>
<circle cx="571.8" cy="270.7" r="0.59" fill="#000"/>
<circle cx="573.2" cy="280.2" r="0.72" fill="#000"/>
<circle cx="581.6" cy="273.2" r="0.75" fill="#000"/>
<circle cx="562.7" cy="282.8" r="0.35" fill="#000"/>
<circle cx="574.0" cy="279.2" r="0.75" fill="#000"/>
<circle cx="573.5" cy="280.4" r="0.93" fill="#000"/>
<circle cx="565.2" cy="279.0" r="0.50" fill="#000"/>
<circle cx="565.5" cy="286.4" r="0.60" fill="#000"/>
<circle cx="579.7" cy="273.9" r="0.74" fill="#000"/>
<circle cx="568.1" cy="287.2" r="0.67" fill="#000"/>
<circle cx="565.2" cy="277.8" r="0.99" fill="#000"/>
<circle cx="564.9" cy="276.2" r="0.66" fill="#000"/>
<circle cx="574.0" cy="279.9" r="0.64" fill="#000"/>
<circle cx="566.7" cy="282.7" r="0.89" fill="#000"/>
<circle cx="583.6" cy="285.5" r="0.47" fill="#000"/>
<circle cx="586.2" cy="281.5" r="0.46" fill="#000"/>
<circle cx="574.5" cy="287.9" r="0.79" fill="#000"/>
<circle cx="572.4" cy="291.6" r="0.56" fill="#000"/>
<circle cx="569.2" cy="279.6" r="0.68" fill="#000"/>
<circle cx="583.7" cy="290.7" r="0.49" fill="#000"/>
<circle cx="568.8" cy="284.1" r="0.48" fill="#000"/>
<circle cx="567.3" cy="284.0" r="0.51" fill="#000"/>
<circle cx="574.7" cy="278.3" r="0.37" fill="#000"/>
<circle cx="574.9" cy="290.5" r="0.76" fill="#000"/>
<circle cx="581.7" cy="280.9" r="0.36" fill="#000"/>
<circle cx="576.3" cy="279.8" r="0.61" fill="#000"/>
<circle cx="572.4" cy="278.2" r="0.57" fill="#000"/>
<circle cx="580.9" cy="282.4" r="0.53" fill="#000"/>
<circle cx="577.8" cy="282.3" r="0.48" fill="#000"/>
<circle cx="576.2" cy="283.4" r="0.73" fill="#000"/>
<circle cx="572.5" cy="280.0" r="0.48" fill="#000"/>
<circle cx="578.0" cy="274.2" r="0.41" fill="#000"/>
<circle cx="566.2" cy="285.9" r="0.57" fill="#000"/>
<circle cx="573.0" cy="287.5" r="0.61" fill="#000"/>
<circle cx="576.0" cy="283.3" r="0.45" fill="#000"/>
<circle cx="580.3" cy="277.0" r="0.65" fill="#000"/>
<circle cx="586.1" cy="286.3" r="0.79" fill="#000"/>
<circle cx="585.9" cy="284.9" r="0.37" fill="#000"/>
<circle cx="577.7" cy="282.1" r="0.64" fill="#000"/>
<circle cx="585.6" cy="282.7" r="0.41" fill="#000"/>
<circle cx="570.9" cy="295.8" r="0.42" fill="#000"/>
<circle cx="569.4" cy="281.7" r="0.42" fill="#000"/>
<circle cx="573.5" cy="284.0" r="0.40" fill="#000"/>
<circle cx="573.0" cy="286.3" r="0.38" fill="#000"/>
<circle cx="550.1" cy="263.7" r="0.57" fill="#000"/>
<circle cx="558.8" cy="268.4" r="0.43" fill="#000"/>
<circle cx="552.3" cy="264.0" r="0.58" fill="#000"/>
<circle cx="555.0" cy="266.7" r="0.52" fill="#000"/>
<circle cx="559.3" cy="269.4" r="0.48" fill="#000"/>
<circle cx="560.3" cy="264.0" r="0.51" fill="#000"/>
<circle cx="555.6" cy="269.8" r="0.41" fill="#000"/>
<circle cx="556.0" cy="262.4" r="0.38" fill="#000"/>
<circle cx="556.4" cy="268.9" r="0.53" fill="#000"/>
<circle cx="558.7" cy="270.3" r="0.51" fill="#000"/>
<circle cx="561.1" cy="268.3" r="0.37" fill="#000"/>
<circle cx="559.8" cy="268.8" r="0.41" fill="#000"/>
<circle cx="588.3" cy="701.7" r="0.62" fill="#000"/>
<circle cx="586.7" cy="702.6" r="0.97" fill="#000"/>
<circle cx="587.7" cy="703.3" r="1.16" fill="#000"/>
<circle cx="585.8" cy="702.0" r="0.45" fill="#000"/>
<circle cx="589.7" cy="702.6" r="1.05" fill="#000"/>
<circle cx="588.5" cy="704.7" r="0.65" fill="#000"/>
<circle cx="586.7" cy="704.4" r="0.87" fill="#000"/>
<circle cx="585.2" cy="704.3" r="0.47" fill="#000"/>
<circle cx="588.1" cy="701.0" r="1.03" fill="#000"/>
<circle cx="582.6" cy="704.3" r="0.79" fill="#000"/>
<circle cx="584.1" cy="701.9" r="0.98" fill="#000"/>
<circle cx="585.7" cy="703.4" r="0.38" fill="#000"/>
<circle cx="586.7" cy="703.4" r="1.11" fill="#000"/>
<circle cx="582.8" cy="703.3" r="0.35" fill="#000"/>
<circle cx="582.0" cy="703.6" r="0.88" fill="#000"/>
<circle cx="584.3" cy="703.8" r="0.43" fill="#000"/>
<circle cx="587.2" cy="703.8" r="0.67" fill="#000"/>
<circle cx="583.1" cy="705.2" r="0.48" fill="#000"/>
<circle cx="586.5" cy="704.3" r="0.49" fill="#000"/>
<circle cx="586.1" cy="704.1" r="0.76" fill="#000"/>
<circle cx="591.4" cy="703.7" r="0.66" fill="#000"/>
<circle cx="589.6" cy="702.1" r="0.92" fill="#000"/>
<circle cx="581.3" cy="703.7" r="0.45" fill="#000"/>
<circle cx="585.6" cy="701.8" r="0.92" fill="#000"/>
<circle cx="586.3" cy="702.1" r="0.52" fill="#000"/>
<circle cx="588.1" cy="703.2" r="0.42" fill="#000"/>
<circle cx="581.7" cy="705.5" r="0.66" fill="#000"/>
<circle cx="585.6" cy="704.7" r="0.59" fill="#000"/>
<circle cx="586.1" cy="700.5" r="0.49" fill="#000"/>
<circle cx="586.7" cy="705.4" r="1.15" fill="#000"/>
<circle cx="612.7" cy="344.7" r="0.89" fill="#000"/>
<circle cx="614.7" cy="346.0" r="0.78" fill="#000"/>
<circle cx="613.5" cy="346.2" r="0.65" fill="#000"/>
<circle cx="616.4" cy="345.9" r="0.54" fill="#000"/>
<circle cx="614.6" cy="346.3" r="0.84" fill="#000"/>
<circle cx="609.3" cy="346.2" r="0.38" fill="#000"/>
<circle cx="614.0" cy="346.5" r="0.57" fill="#000"/>
<circle cx="615.4" cy="346.4" r="0.57" fill="#000"/>
<circle cx="613.8" cy="346.5" r="0.37" fill="#000"/>
<circle cx="615.2" cy="345.8" r="0.63" fill="#000"/>
<circle cx="612.0" cy="347.1" r="0.40" fill="#000"/>
<circle cx="613.6" cy="346.7" r="0.65" fill="#000"/>
</g>
<rect x="129.5" y="88.5" width="707" height="850" fill="none" stroke="#000" stroke-width="1.3"/>
<line x1="108" x2="129.5" y1="173.1" y2="173.1" stroke="#000" stroke-width="1.2"/>
<text x="56" y="183.9" font-size="30" text-anchor="middle">20°N</text>
<line x1="108" x2="129.5" y1="296.9" y2="296.9" stroke="#000" stroke-width="1.2"/>
<text x="56" y="307.7" font-size="30" text-anchor="middle">15°N</text>
<line x1="108" x2="129.5" y1="417.8" y2="417.8" stroke="#000" stroke-width="1.2"/>
<text x="56" y="428.6" font-size="30" text-anchor="middle">10°N</text>
<line x1="108" x2="129.5" y1="536.8" y2="536.8" stroke="#000" stroke-width="1.2"/>
<text x="56" y="547.6" font-size="30" text-anchor="middle">5°N</text>
<line x1="108" x2="129.5" y1="655.0" y2="655.0" stroke="#000" stroke-width="1.2"/>
<text x="56" y="665.8" font-size="30" text-anchor="middle">0°</text>
<line x1="108" x2="129.5" y1="773.2" y2="773.2" stroke="#000" stroke-width="1.2"/>
<text x="56" y="784.0" font-size="30" text-anchor="middle">5°S</text>
<line x1="108" x2="129.5" y1="892.2" y2="892.2" stroke="#000" stroke-width="1.2"/>
<text x="56" y="903.0" font-size="30" text-anchor="middle">10°S</text>
<line y1="938.5" y2="959.5" x1="208.0" x2="208.0" stroke="#000" stroke-width="1.2"/>
<text x="209.0" y="1003.5" font-size="30" text-anchor="middle">25°E</text>
<line y1="938.5" y2="959.5" x1="326.0" x2="326.0" stroke="#000" stroke-width="1.2"/>
<text x="327.0" y="1003.5" font-size="30" text-anchor="middle">30°E</text>
<line y1="938.5" y2="959.5" x1="444.0" x2="444.0" stroke="#000" stroke-width="1.2"/>
<text x="445.0" y="1003.5" font-size="30" text-anchor="middle">35°E</text>
<line y1="938.5" y2="959.5" x1="562.0" x2="562.0" stroke="#000" stroke-width="1.2"/>
<text x="563.0" y="1003.5" font-size="30" text-anchor="middle">40°E</text>
<line y1="938.5" y2="959.5" x1="680.0" x2="680.0" stroke="#000" stroke-width="1.2"/>
<text x="681.0" y="1003.5" font-size="30" text-anchor="middle">45°E</text>
<line y1="938.5" y2="959.5" x1="798.0" x2="798.0" stroke="#000" stroke-width="1.2"/>
<text x="799.0" y="1003.5" font-size="30" text-anchor="middle">50°E</text>
<text x="216.2" y="42.6" font-size="29.2" font-weight="bold" textLength="540" lengthAdjust="spacing">Total Rainfall (mm) for 14-21 Nov 2023</text>
<rect x="882" y="95.50" width="42" height="119.43" fill="#228b22" stroke="#333" stroke-width="0.6"/>
<rect x="882" y="214.93" width="42" height="119.43" fill="#66cd00" stroke="#333" stroke-width="0.6"/>
<rect x="882" y="334.36" width="42" height="119.43" fill="#00ff00" stroke="#333" stroke-width="0.6"/>
<rect x="882" y="453.79" width="42" height="119.43" fill="#caff70" stroke="#333" stroke-width="0.6"/>
<rect x="882" y="573.22" width="42" height="119.43" fill="#ffff00" stroke="#333" stroke-width="0.6"/>
<rect x="882" y="692.65" width="42" height="119.43" fill="#ffa500" stroke="#333" stroke-width="0.6"/>
<rect x="882" y="812.08" width="42" height="119.43" fill="#d8d8d8" stroke="#333" stroke-width="0.6"/>
<text x="956" y="223.8" font-size="25.2" text-anchor="middle">200</text>
<text x="956" y="343.3" font-size="25.2" text-anchor="middle">100</text>
<text x="956" y="462.7" font-size="25.2" text-anchor="middle">50</text>
<text x="956" y="582.1" font-size="25.2" text-anchor="middle">30</text>
<text x="956" y="701.6" font-size="25.2" text-anchor="middle">10</text>
<text x="956" y="821.0" font-size="25.2" text-anchor="middle">1</text>
<rect x="882" y="95.50" width="42" height="836.01" fill="none" stroke="#666" stroke-width="0.8"/>
<g transform="translate(710,95) scale(0.1171875)">
<circle cx="512" cy="512" r="436" fill="#fdfdfb"/>
<circle cx="512" cy="512" r="422" fill="#fff" stroke="#1b7d3e" stroke-width="5"/>
<circle cx="512" cy="512" r="340" fill="none" stroke="#1b7d3e" stroke-width="5"/>
<path id="lgt" d="M153.0,474.3 A361,361 0 0 1 871.0,474.3" fill="none"/>
<path id="lgb" d="M117.1,581.6 A401,401 0 0 0 906.9,581.6" fill="none"/>
<text font-size="50" font-weight="bold" style="fill:#1b7d3e" textLength="1050" lengthAdjust="spacingAndGlyphs"><textPath href="#lgt" textLength="1050" lengthAdjust="spacingAndGlyphs">INTERGOVERNMENTAL AUTHORITY ON DEVELOPMENT</textPath></text>
<text font-size="50" font-weight="bold" style="fill:#1b7d3e" textLength="1110" lengthAdjust="spacingAndGlyphs"><textPath href="#lgb" textLength="1110" lengthAdjust="spacingAndGlyphs">AUTORITE INTERGOUVERNEMENTALE POUR LE DEVELOPPEMENT</textPath></text>
<text x="520" y="336" font-size="128" font-weight="bold" text-anchor="middle" style="fill:#1b7d3e" textLength="322" lengthAdjust="spacingAndGlyphs">IGAD</text>
<polygon points="130.0,494.0 136.6,512.9 156.6,513.3 140.7,525.5 146.5,544.7 130.0,533.2 113.5,544.7 119.3,525.5 103.4,513.3 123.4,512.9" fill="#1b7d3e"/>
<polygon points="892.0,494.0 898.6,512.9 918.6,513.3 902.7,525.5 908.5,544.7 892.0,533.2 875.5,544.7 881.3,525.5 865.4,513.3 885.4,512.9" fill="#1b7d3e"/>
<path d="M430,385 L470,378 L490,395 L530,400 L580,400 L600,440 L620,470 L650,500 L685,500 L670,530 L650,555 L625,585 L630,625 L600,665 L585,700 L560,730 L530,730 L520,700 L500,650 L505,600 L490,570 L470,555 L420,550 L380,535 L355,500 L350,460 L370,420 L400,400Z" fill="#1b7d3e"/>
<path d="M545,450 L600,440 L620,470 L650,500 L685,500 L670,530 L650,555 L625,585 L590,570 L570,545 L560,520 L535,500 L530,470Z" fill="#e6b04a"/>
<path d="M655,640 L670,630 L668,660 L650,680 L645,665Z" fill="#1b7d3e"/>
<rect x="340" y="396" width="100" height="9" fill="#1b7d3e"/>
<rect x="315" y="428" width="85" height="9" fill="#e6b04a"/>
<rect x="300" y="461" width="100" height="9" fill="#1b7d3e"/>
<rect x="305" y="493" width="85" height="9" fill="#e6b04a"/>
<rect x="330" y="524" width="70" height="9" fill="#1b7d3e"/>
<rect x="430" y="561" width="90" height="9" fill="#e6b04a"/>
<rect x="450" y="594" width="90" height="9" fill="#1b7d3e"/>
<rect x="450" y="626" width="70" height="9" fill="#e6b04a"/>
<rect x="455" y="658" width="90" height="9" fill="#1b7d3e"/>
<rect x="480" y="691" width="60" height="9" fill="#e6b04a"/>
<rect x="480" y="721" width="80" height="9" fill="#1b7d3e"/>
<ellipse cx="408.6" cy="755.9" rx="30" ry="8.5" fill="#1b7d3e" transform="rotate(230.0 408.6 755.9)"/>
<ellipse cx="398.1" cy="781.9" rx="30" ry="8.5" fill="#1b7d3e" transform="rotate(174.0 398.1 781.9)"/>
<ellipse cx="353.7" cy="726.1" rx="30" ry="8.5" fill="#1b7d3e" transform="rotate(243.0 353.7 726.1)"/>
<ellipse cx="337.6" cy="749.0" rx="30" ry="8.5" fill="#1b7d3e" transform="rotate(187.0 337.6 749.0)"/>
<ellipse cx="306.9" cy="684.7" rx="30" ry="8.5" fill="#1b7d3e" transform="rotate(256.0 306.9 684.7)"/>
<ellipse cx="286.1" cy="703.4" rx="30" ry="8.5" fill="#1b7d3e" transform="rotate(200.0 286.1 703.4)"/>
<ellipse cx="270.6" cy="633.8" rx="30" ry="8.5" fill="#1b7d3e" transform="rotate(269.0 270.6 633.8)"/>
<ellipse cx="246.1" cy="647.4" rx="30" ry="8.5" fill="#1b7d3e" transform="rotate(213.0 246.1 647.4)"/>
<ellipse cx="246.7" cy="576.1" rx="30" ry="8.5" fill="#1b7d3e" transform="rotate(282.0 246.7 576.1)"/>
<ellipse cx="219.8" cy="583.8" rx="30" ry="8.5" fill="#1b7d3e" transform="rotate(226.0 219.8 583.8)"/>
<ellipse cx="236.4" cy="514.4" rx="30" ry="8.5" fill="#1b7d3e" transform="rotate(295.0 236.4 514.4)"/>
<ellipse cx="208.4" cy="515.9" rx="30" ry="8.5" fill="#1b7d3e" transform="rotate(239.0 208.4 515.9)"/>
<ellipse cx="240.2" cy="452.1" rx="30" ry="8.5" fill="#1b7d3e" transform="rotate(308.0 240.2 452.1)"/>
<ellipse cx="212.6" cy="447.2" rx="30" ry="8.5" fill="#1b7d3e" transform="rotate(252.0 212.6 447.2)"/>
<ellipse cx="257.9" cy="392.2" rx="30" ry="8.5" fill="#1b7d3e" transform="rotate(321.0 257.9 392.2)"/>
<ellipse cx="232.2" cy="381.2" rx="30" ry="8.5" fill="#1b7d3e" transform="rotate(265.0 232.2 381.2)"/>
<ellipse cx="615.4" cy="755.9" rx="30" ry="8.5" fill="#1b7d3e" transform="rotate(-50.0 615.4 755.9)"/>
<ellipse cx="625.9" cy="781.9" rx="30" ry="8.5" fill="#1b7d3e" transform="rotate(6.0 625.9 781.9)"/>
<ellipse cx="670.3" cy="726.1" rx="30" ry="8.5" fill="#1b7d3e" transform="rotate(-63.0 670.3 726.1)"/>
<ellipse cx="686.4" cy="749.0" rx="30" ry="8.5" fill="#1b7d3e" transform="rotate(-7.0 686.4 749.0)"/>
<ellipse cx="717.1" cy="684.7" rx="30" ry="8.5" fill="#1b7d3e" transform="rotate(-76.0 717.1 684.7)"/>
<ellipse cx="737.9" cy="703.4" rx="30" ry="8.5" fill="#1b7d3e" transform="rotate(-20.0 737.9 703.4)"/>
<ellipse cx="753.4" cy="633.8" rx="30" ry="8.5" fill="#1b7d3e" transform="rotate(-89.0 753.4 633.8)"/>
<ellipse cx="777.9" cy="647.4" rx="30" ry="8.5" fill="#1b7d3e" transform="rotate(-33.0 777.9 647.4)"/>
<ellipse cx="777.3" cy="576.1" rx="30" ry="8.5" fill="#1b7d3e" transform="rotate(-102.0 777.3 576.1)"/>
<ellipse cx="804.2" cy="583.8" rx="30" ry="8.5" fill="#1b7d3e" transform="rotate(-46.0 804.2 583.8)"/>
<ellipse cx="787.6" cy="514.4" rx="30" ry="8.5" fill="#1b7d3e" transform="rotate(-115.0 787.6 514.4)"/>
<ellipse cx="815.6" cy="515.9" rx="30" ry="8.5" fill="#1b7d3e" transform="rotate(-59.0 815.6 515.9)"/>
<ellipse cx="783.8" cy="452.1" rx="30" ry="8.5" fill="#1b7d3e" transform="rotate(-128.0 783.8 452.1)"/>
<ellipse cx="811.4" cy="447.2" rx="30" ry="8.5" fill="#1b7d3e" transform="rotate(-72.0 811.4 447.2)"/>
<ellipse cx="766.1" cy="392.2" rx="30" ry="8.5" fill="#1b7d3e" transform="rotate(-141.0 766.1 392.2)"/>
<ellipse cx="791.8" cy="381.2" rx="30" ry="8.5" fill="#1b7d3e" transform="rotate(-85.0 791.8 381.2)"/>
<path d="M470,828 Q515,790 560,800" fill="none" stroke="#1b7d3e" stroke-width="4"/>
<path d="M555,828 Q510,790 465,800" fill="none" stroke="#1b7d3e" stroke-width="4"/>
</g>
</svg></body></html>
